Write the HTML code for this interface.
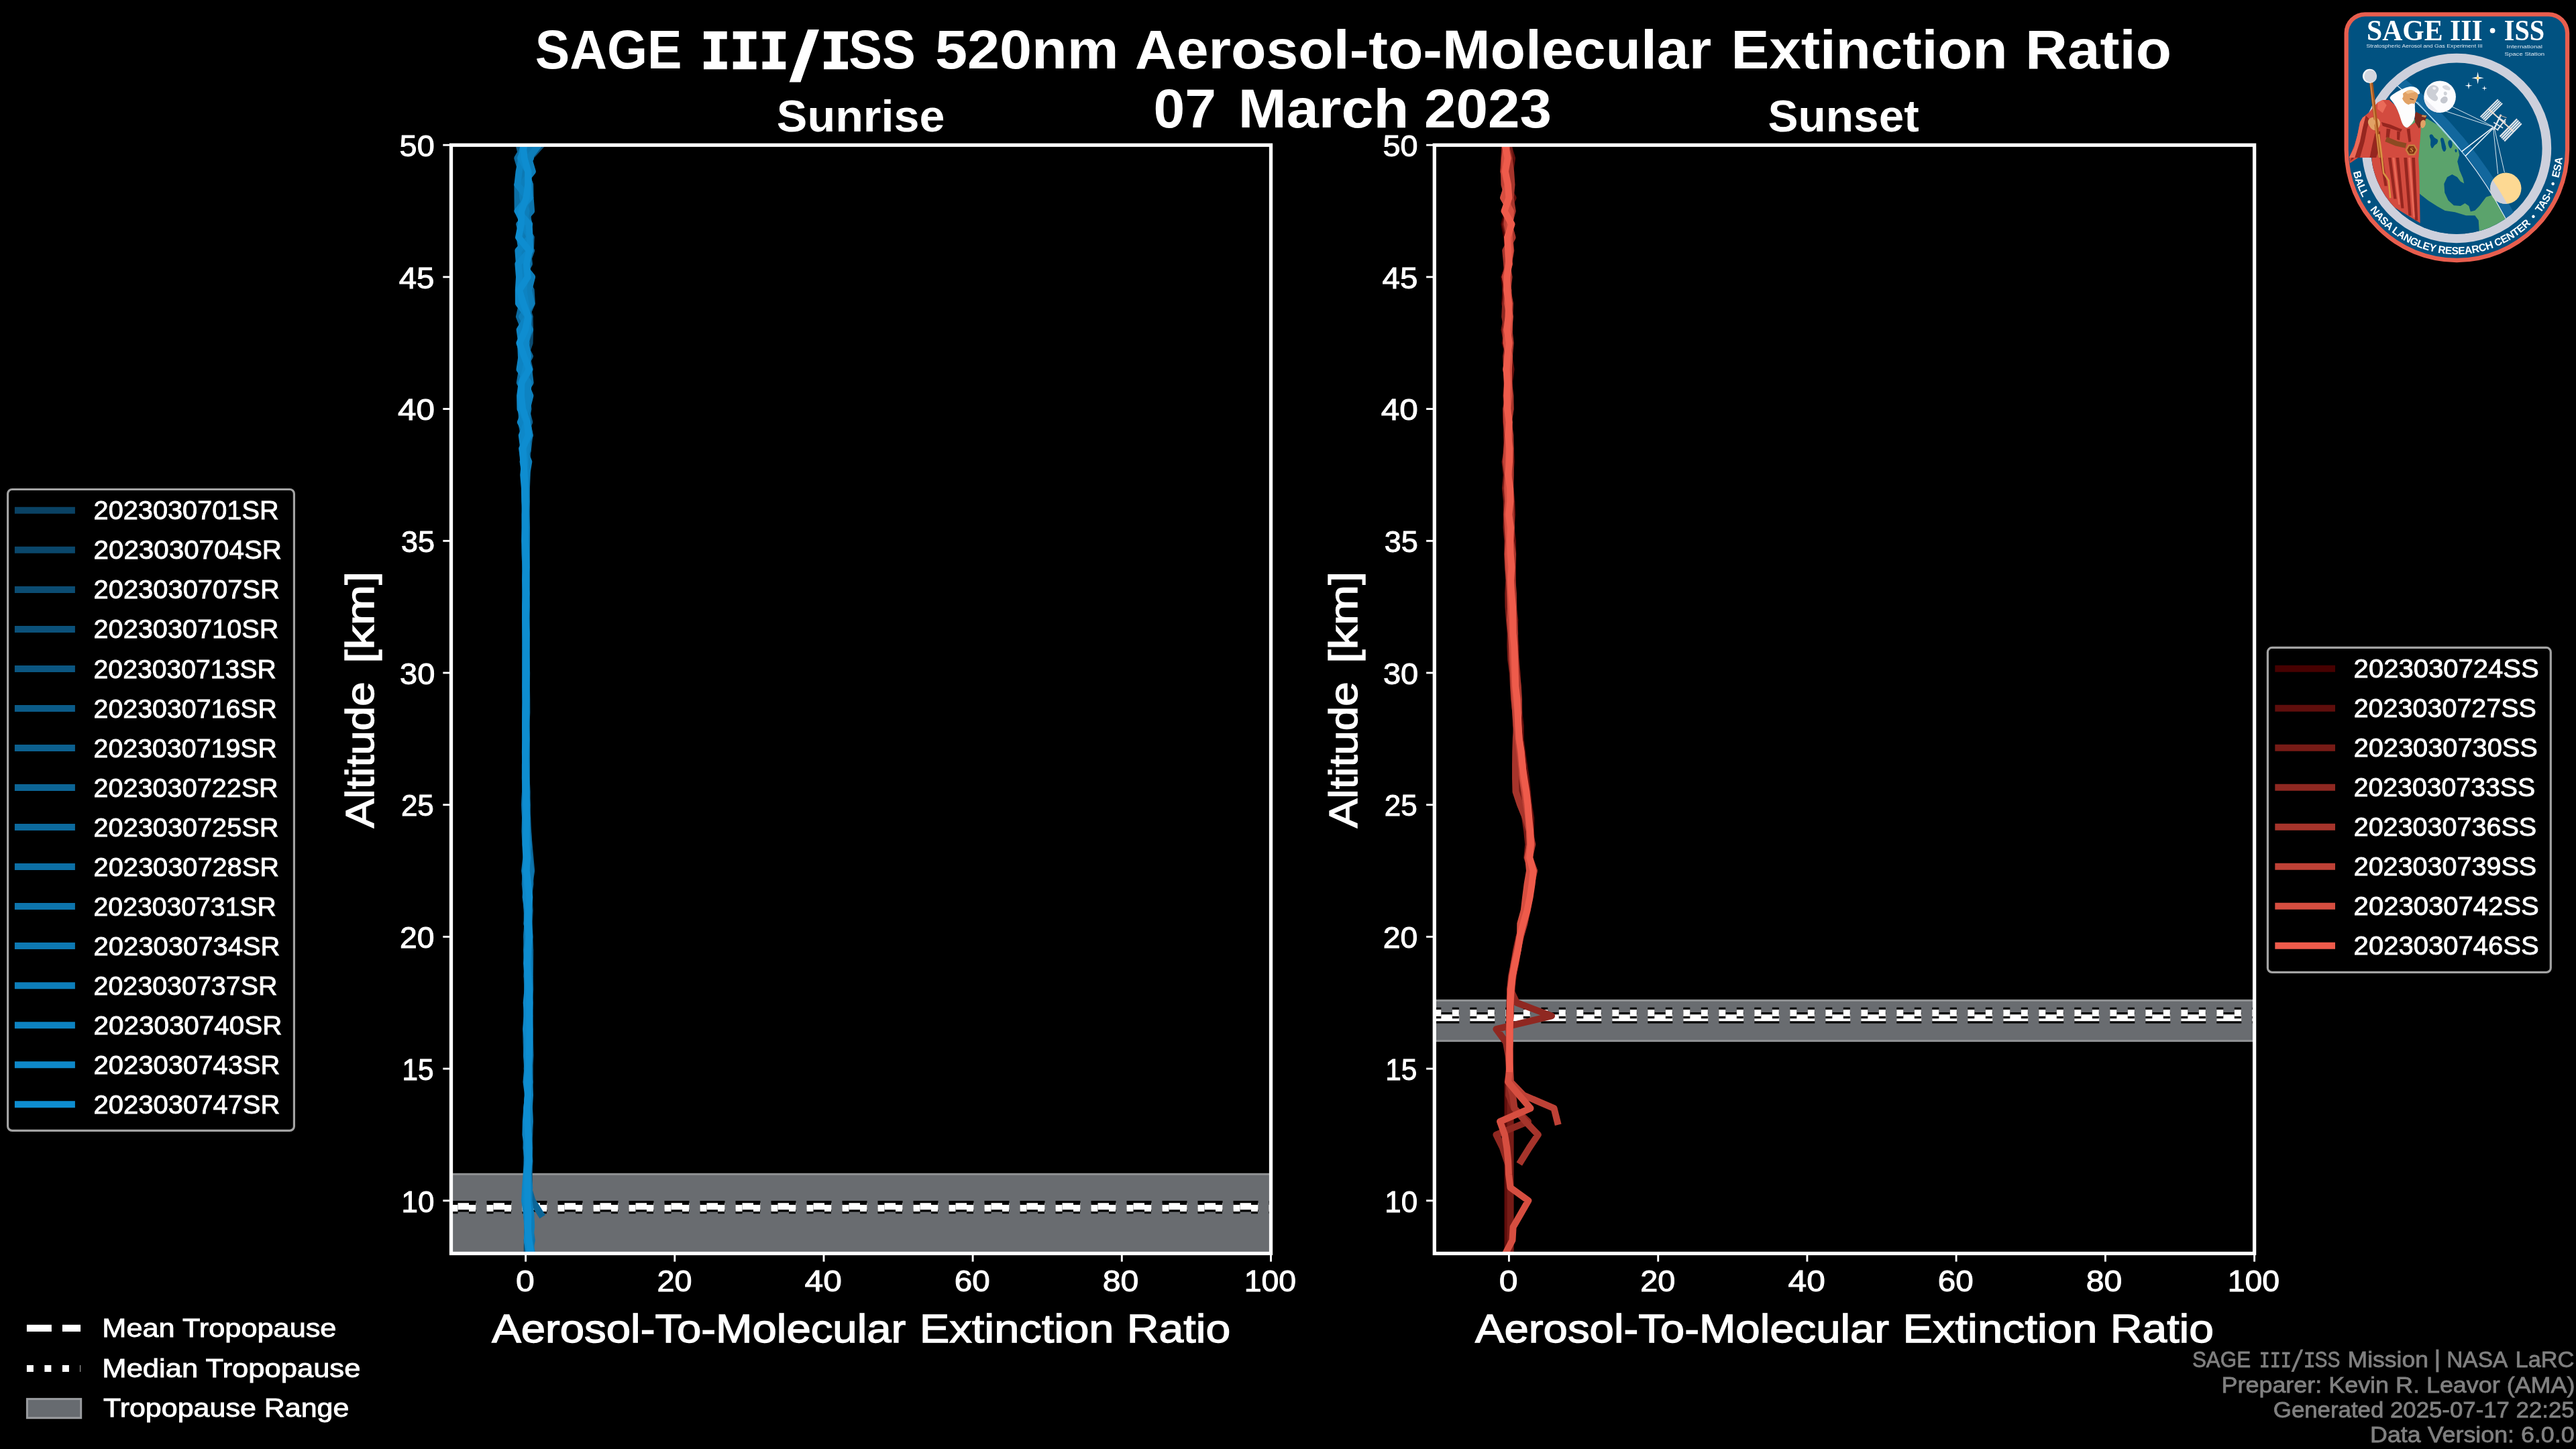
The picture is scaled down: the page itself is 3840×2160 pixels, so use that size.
<!DOCTYPE html>
<html lang="en">
<head>
<meta charset="utf-8">
<title>SAGE III/ISS 520nm Aerosol-to-Molecular Extinction Ratio - 07 March 2023</title>
<style>
html,body{margin:0;padding:0;background:#000;}
body{width:3840px;height:2160px;overflow:hidden;font-family:"Liberation Sans", sans-serif;}
svg{display:block;will-change:transform;font-family:"Liberation Sans", sans-serif;}
</style>
</head>
<body>
<svg width="3840" height="2160" viewBox="0 0 3840 2160" fill="#fff">
<rect width="3840" height="2160" fill="#000"/>
<g id="titles" fill="#fff">
<text x="797.68" y="101.5" font-size="81.5" font-weight="bold" textLength="218.74" lengthAdjust="spacingAndGlyphs">SAGE</text>
<text x="1044.62" y="101.5" font-size="81.5" font-weight="bold" font-family='"Liberation Mono", monospace' stroke="#fff" stroke-width="2.4" textLength="131.02" lengthAdjust="spacingAndGlyphs">III</text>
<text x="1223.44" y="101.5" font-size="81.5" font-weight="bold" font-family='"Liberation Mono", monospace' stroke="#fff" stroke-width="2.4" textLength="45.08" lengthAdjust="spacingAndGlyphs">I</text>
<text x="1265.25" y="101.5" font-size="81.5" font-weight="bold" textLength="99.46" lengthAdjust="spacingAndGlyphs">SS</text>
<text x="1394.04" y="101.5" font-size="81.5" font-weight="bold" textLength="273.61" lengthAdjust="spacingAndGlyphs">520nm</text>
<text x="1691.76" y="101.5" font-size="81.5" font-weight="bold" textLength="859.34" lengthAdjust="spacingAndGlyphs">Aerosol-to-Molecular</text>
<text x="2580.40" y="101.5" font-size="81.5" font-weight="bold" textLength="412.09" lengthAdjust="spacingAndGlyphs">Extinction</text>
<text x="3019.07" y="101.5" font-size="81.5" font-weight="bold" textLength="218.04" lengthAdjust="spacingAndGlyphs">Ratio</text>
<text x="1719.58" y="190.0" font-size="81.5" font-weight="bold" textLength="93.41" lengthAdjust="spacingAndGlyphs">07</text>
<text x="1845.82" y="190.0" font-size="81.5" font-weight="bold" textLength="254.54" lengthAdjust="spacingAndGlyphs">March</text>
<text x="2123.14" y="190.0" font-size="81.5" font-weight="bold" textLength="189.94" lengthAdjust="spacingAndGlyphs">2023</text>
<polygon points="1176.6,122.6 1193.4,122.6 1221.0,44.0 1204.2,44.0"/>
<text x="1157.83" y="195.6" font-size="67" font-weight="bold" textLength="250.60" lengthAdjust="spacingAndGlyphs">Sunrise</text>
<text x="2635.55" y="195.6" font-size="67" font-weight="bold" textLength="225.17" lengthAdjust="spacingAndGlyphs">Sunset</text>
</g>
<clipPath id="clip-sr"><rect x="672.5" y="216.25" width="1222.0" height="1652.25"/></clipPath>
<clipPath id="clip-ss"><rect x="2138.3" y="216.25" width="1222.3" height="1652.25"/></clipPath>
<g id="axes-sr">
<g clip-path="url(#clip-sr)">
<rect x="652.5" y="1750.3" width="1262.0" height="249.7" fill="#696c70" stroke="#909294" stroke-width="3"/>
<line x1="672.5" x2="1894.5" y1="1798.2" y2="1798.2" stroke="#000" stroke-width="16.4" stroke-dasharray="37 16"/>
<line x1="672.5" x2="1894.5" y1="1798.2" y2="1798.2" stroke="#fff" stroke-width="10" stroke-dasharray="37 16"/>
<line x1="672.5" x2="1894.5" y1="1801.0" y2="1801.0" stroke="#000" stroke-width="16.4" stroke-dasharray="10 16.5"/>
<line x1="672.5" x2="1894.5" y1="1801.0" y2="1801.0" stroke="#fff" stroke-width="10" stroke-dasharray="10 16.5"/>
<polyline points="776.9,216.2 784.0,235.9 776.0,255.6 782.5,275.3 780.2,294.9 776.2,314.6 782.2,334.3 776.2,353.9 781.4,373.6 776.9,393.3 777.3,412.9 781.4,432.6 786.3,452.3 778.1,472.0 779.4,491.6 784.0,511.3 787.3,531.0 783.6,550.6 781.9,570.3 787.4,590.0 779.0,609.6 786.2,629.3 781.5,649.0 781.1,668.7 781.8,688.3 783.0,708.0 783.8,727.7 783.5,747.3 783.7,767.0 783.9,786.7 783.7,806.3 783.8,826.0 783.4,845.7 783.2,865.3 783.3,885.0 783.7,904.7 783.8,924.4 783.7,944.0 783.9,963.7 783.9,983.4 783.8,1003.0 784.2,1022.7 784.3,1042.4 784.0,1062.0 784.1,1081.7 784.1,1101.4 784.5,1121.1 784.5,1140.7 784.2,1160.4 784.8,1180.1 784.0,1199.7 784.4,1219.4 785.6,1239.1 785.0,1258.7 785.7,1278.4 784.4,1298.1 786.2,1317.8 787.5,1337.4 787.7,1357.1 788.6,1376.8 787.4,1396.4 787.9,1416.1 787.8,1435.8 787.8,1455.4 787.4,1475.1 788.2,1494.8 788.9,1514.4 788.1,1534.1 788.1,1553.8 786.6,1573.5 787.4,1593.1 787.7,1612.8 788.7,1632.5 788.8,1652.1 787.6,1671.8 787.2,1691.5 787.6,1711.1 786.3,1730.8 786.6,1750.5 786.1,1770.2 785.6,1789.8 785.0,1809.5 787.1,1829.2 785.9,1848.8 785.7,1868.5" fill="none" stroke="#0a4264" stroke-width="10" stroke-linejoin="round" stroke-linecap="square"/>
<polyline points="787.6,216.2 775.9,235.9 781.4,255.6 782.9,275.3 787.7,294.9 786.8,314.6 787.4,334.3 779.3,353.9 781.3,373.6 780.6,393.3 787.5,412.9 788.4,432.6 778.2,452.3 778.7,472.0 779.5,491.6 779.7,511.3 782.7,531.0 783.9,550.6 780.6,570.3 778.3,590.0 782.5,609.6 782.1,629.3 784.0,649.0 786.6,668.7 784.6,688.3 783.8,708.0 783.9,727.7 784.1,747.3 783.5,767.0 784.1,786.7 784.3,806.3 784.5,826.0 784.5,845.7 784.1,865.3 784.0,885.0 783.6,904.7 783.9,924.4 783.5,944.0 783.3,963.7 783.4,983.4 783.4,1003.0 783.5,1022.7 783.4,1042.4 783.2,1062.0 783.3,1081.7 783.3,1101.4 783.6,1121.1 783.4,1140.7 784.1,1160.4 784.3,1180.1 783.7,1199.7 783.9,1219.4 784.4,1239.1 784.8,1258.7 784.4,1278.4 786.6,1298.1 788.6,1317.8 787.9,1337.4 787.7,1357.1 786.3,1376.8 785.6,1396.4 786.0,1416.1 786.0,1435.8 787.5,1455.4 786.5,1475.1 785.6,1494.8 787.6,1514.4 787.5,1534.1 786.5,1553.8 787.0,1573.5 785.9,1593.1 786.6,1612.8 788.2,1632.5 788.7,1652.1 788.6,1671.8 787.4,1691.5 787.0,1711.1 786.3,1730.8 787.5,1750.5 787.7,1770.2 788.6,1789.8 787.8,1809.5 786.8,1829.2 788.8,1848.8 791.0,1868.5" fill="none" stroke="#0a476b" stroke-width="10" stroke-linejoin="round" stroke-linecap="square"/>
<polyline points="788.7,216.2 788.9,235.9 787.6,255.6 779.9,275.3 784.3,294.9 781.9,314.6 777.2,334.3 777.3,353.9 781.0,373.6 780.7,393.3 786.7,412.9 790.2,432.6 783.4,452.3 789.7,472.0 790.2,491.6 789.6,511.3 782.7,531.0 781.1,550.6 781.4,570.3 781.2,590.0 781.5,609.6 785.6,629.3 788.1,649.0 786.8,668.7 784.2,688.3 784.8,708.0 784.6,727.7 783.9,747.3 784.2,767.0 784.6,786.7 784.7,806.3 784.7,826.0 784.5,845.7 784.0,865.3 784.4,885.0 784.2,904.7 784.5,924.4 784.9,944.0 784.5,963.7 784.3,983.4 784.8,1003.0 784.8,1022.7 784.3,1042.4 784.0,1062.0 783.8,1081.7 784.5,1101.4 784.8,1121.1 784.3,1140.7 784.7,1160.4 785.4,1180.1 785.5,1199.7 785.5,1219.4 786.2,1239.1 785.6,1258.7 784.9,1278.4 788.0,1298.1 788.6,1317.8 788.5,1337.4 789.8,1357.1 788.8,1376.8 789.6,1396.4 789.8,1416.1 788.2,1435.8 787.4,1455.4 787.1,1475.1 786.8,1494.8 787.6,1514.4 787.2,1534.1 787.3,1553.8 786.6,1573.5 788.4,1593.1 787.8,1612.8 787.8,1632.5 788.2,1652.1 789.2,1671.8 788.5,1691.5 789.4,1711.1 788.8,1730.8 788.5,1750.5 788.7,1770.2 787.1,1789.8 787.7,1809.5" fill="none" stroke="#0b4c72" stroke-width="10" stroke-linejoin="round" stroke-linecap="square"/>
<polyline points="807.0,216.2 789.0,235.9 776.0,255.6 780.9,275.3 784.9,294.9 782.3,314.6 778.8,334.3 781.8,353.9 782.4,373.6 785.8,393.3 776.0,412.9 782.6,432.6 778.3,452.3 778.9,472.0 785.5,491.6 782.1,511.3 782.9,531.0 785.3,550.6 787.0,570.3 781.9,590.0 783.8,609.6 782.8,629.3 783.0,649.0 784.6,668.7 783.1,688.3 783.6,708.0 783.6,727.7 784.2,747.3 784.2,767.0 784.4,786.7 784.6,806.3 783.9,826.0 783.9,845.7 784.4,865.3 784.5,885.0 783.8,904.7 783.4,924.4 783.6,944.0 783.2,963.7 783.3,983.4 783.1,1003.0 783.7,1022.7 784.1,1042.4 784.5,1062.0 783.9,1081.7 784.2,1101.4 784.3,1121.1 783.8,1140.7 784.3,1160.4 784.9,1180.1 784.1,1199.7 785.5,1219.4 785.4,1239.1 785.6,1258.7 787.8,1278.4 788.6,1298.1 786.3,1317.8 786.3,1337.4 786.8,1357.1 786.3,1376.8 785.6,1396.4 785.7,1416.1 787.0,1435.8 785.5,1455.4 786.3,1475.1 786.5,1494.8 785.3,1514.4 785.6,1534.1 786.6,1553.8 786.8,1573.5 785.6,1593.1 787.6,1612.8 788.2,1632.5 789.0,1652.1 787.0,1671.8 786.3,1691.5 785.3,1711.1 786.9,1730.8 786.3,1750.5 785.5,1770.2 785.9,1789.8 788.1,1809.5 789.3,1829.2 787.4,1848.8 785.6,1868.5" fill="none" stroke="#0b517a" stroke-width="10" stroke-linejoin="round" stroke-linecap="square"/>
<polyline points="785.6,216.2 787.8,235.9 777.5,255.6 777.1,275.3 787.5,294.9 783.2,314.6 777.6,334.3 791.4,353.9 786.6,373.6 789.1,393.3 778.2,412.9 789.7,432.6 778.2,452.3 789.6,472.0 783.8,491.6 782.4,511.3 785.2,531.0 789.8,550.6 781.9,570.3 780.4,590.0 785.0,609.6 782.0,629.3 780.8,649.0 781.9,668.7 781.8,688.3 783.0,708.0 783.5,727.7 783.5,747.3 784.2,767.0 783.9,786.7 784.1,806.3 783.8,826.0 783.8,845.7 783.5,865.3 783.5,885.0 783.3,904.7 784.1,924.4 784.2,944.0 783.9,963.7 784.1,983.4 784.7,1003.0 784.2,1022.7 784.6,1042.4 784.5,1062.0 784.5,1081.7 784.8,1101.4 784.6,1121.1 784.6,1140.7 784.7,1160.4 785.5,1180.1 785.1,1199.7 786.3,1219.4 787.2,1239.1 788.0,1258.7 787.9,1278.4 787.4,1298.1 785.9,1317.8 785.7,1337.4 785.6,1357.1 787.7,1376.8 787.1,1396.4 786.6,1416.1 786.1,1435.8 788.1,1455.4 789.3,1475.1 789.3,1494.8 788.2,1514.4 787.4,1534.1 787.2,1553.8 787.5,1573.5 786.8,1593.1 787.3,1612.8 787.0,1632.5 788.9,1652.1 790.0,1671.8 789.3,1691.5 788.1,1711.1 789.5,1730.8 788.4,1750.5 788.1,1770.2 786.6,1789.8 787.2,1809.5 788.1,1829.2 788.9,1848.8 787.7,1868.5" fill="none" stroke="#0b5681" stroke-width="10" stroke-linejoin="round" stroke-linecap="square"/>
<polyline points="773.6,216.2 778.4,235.9 775.4,255.6 780.9,275.3 774.8,294.9 774.6,314.6 779.5,334.3 778.4,353.9 784.2,373.6 783.3,393.3 786.8,412.9 785.3,432.6 786.2,452.3 788.5,472.0 781.5,491.6 780.7,511.3 789.6,531.0 778.8,550.6 786.1,570.3 785.1,590.0 778.3,609.6 787.2,629.3 787.7,649.0 784.8,668.7 785.2,688.3 785.2,708.0 783.9,727.7 783.9,747.3 783.9,767.0 784.3,786.7 784.5,806.3 784.7,826.0 784.5,845.7 784.7,865.3 784.6,885.0 784.6,904.7 784.0,924.4 783.5,944.0 783.3,963.7 783.5,983.4 783.3,1003.0 784.1,1022.7 784.2,1042.4 784.3,1062.0 784.4,1081.7 784.5,1101.4 784.4,1121.1 783.8,1140.7 784.3,1160.4 784.7,1180.1 784.6,1199.7 785.1,1219.4 786.0,1239.1 784.9,1258.7 786.8,1278.4 785.8,1298.1 784.6,1317.8 785.1,1337.4 787.3,1357.1 786.3,1376.8 787.7,1396.4 789.2,1416.1 788.4,1435.8 787.6,1455.4 787.5,1475.1 788.1,1494.8 788.7,1514.4 788.5,1534.1 788.5,1553.8 786.7,1573.5 786.0,1593.1 785.9,1612.8 787.4,1632.5 786.8,1652.1 787.3,1671.8 785.9,1691.5 785.3,1711.1 785.6,1730.8 787.0,1750.5 788.0,1770.2" fill="none" stroke="#0b5b88" stroke-width="10" stroke-linejoin="round" stroke-linecap="square"/>
<polyline points="779.4,216.2 783.7,235.9 782.8,255.6 782.8,275.3 776.6,294.9 790.5,314.6 778.3,334.3 791.7,353.9 790.9,373.6 775.6,393.3 782.9,412.9 788.8,432.6 791.0,452.3 782.9,472.0 780.3,491.6 779.6,511.3 789.9,531.0 780.0,550.6 784.9,570.3 779.5,590.0 784.3,609.6 789.2,629.3 780.2,649.0 786.9,668.7 784.1,688.3 785.8,708.0 784.9,727.7 784.1,747.3 784.6,767.0 784.3,786.7 783.6,806.3 783.2,826.0 783.6,845.7 783.8,865.3 783.7,885.0 783.5,904.7 783.6,924.4 783.6,944.0 784.3,963.7 783.7,983.4 784.2,1003.0 784.7,1022.7 784.0,1042.4 784.7,1062.0 784.8,1081.7 785.0,1101.4 784.5,1121.1 784.3,1140.7 784.2,1160.4 785.1,1180.1 785.1,1199.7 785.2,1219.4 785.5,1239.1 785.4,1258.7 784.4,1278.4 783.7,1298.1 787.2,1317.8 786.6,1337.4 789.1,1357.1 787.6,1376.8 786.8,1396.4 787.4,1416.1 786.5,1435.8 786.7,1455.4 788.7,1475.1 789.6,1494.8 789.8,1514.4 789.4,1534.1 790.0,1553.8 790.5,1573.5 789.5,1593.1 789.4,1612.8 787.2,1632.5 788.3,1652.1 787.9,1671.8 788.7,1691.5 788.8,1711.1 787.7,1730.8 786.3,1750.5 788.6,1770.2 787.1,1789.8 787.6,1809.5 787.4,1829.2 787.0,1848.8 789.4,1868.5" fill="none" stroke="#0c608f" stroke-width="10" stroke-linejoin="round" stroke-linecap="square"/>
<polyline points="780.2,216.2 787.9,235.9 781.1,255.6 786.0,275.3 783.0,294.9 778.8,314.6 778.8,334.3 779.7,353.9 792.1,373.6 784.9,393.3 780.2,412.9 791.7,432.6 792.9,452.3 784.1,472.0 779.4,491.6 780.3,511.3 779.1,531.0 782.8,550.6 779.5,570.3 781.6,590.0 782.0,609.6 785.8,629.3 789.4,649.0 787.1,668.7 784.0,688.3 784.0,708.0 784.1,727.7 784.0,747.3 783.9,767.0 783.5,786.7 783.6,806.3 784.5,826.0 783.9,845.7 784.1,865.3 784.4,885.0 784.9,904.7 784.3,924.4 784.1,944.0 783.9,963.7 784.0,983.4 784.2,1003.0 784.9,1022.7 785.2,1042.4 785.3,1062.0 784.4,1081.7 783.9,1101.4 784.5,1121.1 785.0,1140.7 784.8,1160.4 785.0,1180.1 784.0,1199.7 784.7,1219.4 786.9,1239.1 788.6,1258.7 790.4,1278.4 792.2,1298.1 789.2,1317.8 787.2,1337.4 786.6,1357.1 787.6,1376.8 788.7,1396.4 790.2,1416.1 790.1,1435.8 789.9,1455.4 790.2,1475.1 789.2,1494.8 789.1,1514.4 787.2,1534.1 788.7,1553.8 787.7,1573.5 789.5,1593.1 789.5,1612.8 788.3,1632.5 787.1,1652.1 786.9,1671.8 788.0,1691.5 788.9,1711.1 787.4,1730.8 786.4,1750.5 787.5,1770.2 793.5,1789.8 806.0,1809.5" fill="none" stroke="#0c6596" stroke-width="10" stroke-linejoin="round" stroke-linecap="square"/>
<polyline points="783.1,216.2 771.3,235.9 777.2,255.6 780.4,275.3 790.2,294.9 784.1,314.6 788.6,334.3 781.0,353.9 776.6,373.6 777.0,393.3 789.7,412.9 785.2,432.6 778.4,452.3 773.9,472.0 781.8,491.6 784.7,511.3 780.9,531.0 778.7,550.6 784.6,570.3 788.1,590.0 779.1,609.6 777.0,629.3 780.9,649.0 782.3,668.7 784.6,688.3 781.9,708.0 783.5,727.7 783.9,747.3 783.8,767.0 783.3,786.7 784.2,806.3 783.7,826.0 784.2,845.7 783.6,865.3 783.3,885.0 783.9,904.7 783.6,924.4 784.3,944.0 784.1,963.7 783.6,983.4 783.4,1003.0 783.5,1022.7 783.9,1042.4 784.5,1062.0 783.8,1081.7 783.8,1101.4 783.5,1121.1 784.4,1140.7 783.8,1160.4 783.0,1180.1 782.3,1199.7 783.1,1219.4 785.3,1239.1 787.0,1258.7 787.9,1278.4 789.9,1298.1 790.4,1317.8 787.9,1337.4 786.2,1357.1 788.3,1376.8 788.6,1396.4 786.0,1416.1 787.1,1435.8 786.6,1455.4 786.3,1475.1 786.0,1494.8 785.2,1514.4 784.2,1534.1 784.6,1553.8 785.2,1573.5 787.6,1593.1 786.0,1612.8 788.0,1632.5 786.5,1652.1 786.2,1671.8 787.7,1691.5 788.5,1711.1 787.5,1730.8 785.7,1750.5 786.2,1770.2 786.1,1789.8 788.6,1809.5 786.5,1829.2 786.0,1848.8 789.3,1868.5" fill="none" stroke="#0c6a9e" stroke-width="10" stroke-linejoin="round" stroke-linecap="square"/>
<polyline points="798.0,216.2 786.0,235.9 785.6,255.6 771.4,275.3 771.5,294.9 771.7,314.6 788.6,334.3 775.7,353.9 785.2,373.6 788.0,393.3 777.7,412.9 776.6,432.6 788.9,452.3 782.9,472.0 777.0,491.6 784.6,511.3 778.4,531.0 778.1,550.6 774.8,570.3 785.3,590.0 787.4,609.6 783.7,629.3 787.6,649.0 778.0,668.7 781.1,688.3 783.1,708.0 784.1,727.7 784.5,747.3 783.9,767.0 783.3,786.7 783.3,806.3 783.4,826.0 784.1,845.7 783.4,865.3 784.0,885.0 784.2,904.7 784.4,924.4 784.5,944.0 784.3,963.7 783.8,983.4 783.5,1003.0 783.5,1022.7 784.0,1042.4 783.4,1062.0 783.2,1081.7 783.8,1101.4 783.5,1121.1 783.1,1140.7 782.9,1160.4 783.1,1180.1 782.8,1199.7 784.8,1219.4 786.2,1239.1 788.0,1258.7 786.1,1278.4 783.6,1298.1 782.7,1317.8 784.5,1337.4 786.5,1357.1 786.2,1376.8 785.2,1396.4 785.5,1416.1 786.4,1435.8 787.1,1455.4 787.8,1475.1 788.5,1494.8 788.2,1514.4 786.0,1534.1 787.5,1553.8 786.3,1573.5 786.6,1593.1 786.1,1612.8 787.2,1632.5 785.8,1652.1 785.2,1671.8 784.9,1691.5 784.4,1711.1 786.7,1730.8 786.9,1750.5 786.1,1770.2 785.9,1789.8 788.6,1809.5 787.9,1829.2 785.7,1848.8 788.2,1868.5" fill="none" stroke="#0c6fa5" stroke-width="10" stroke-linejoin="round" stroke-linecap="square"/>
<polyline points="794.0,216.2 774.8,235.9 782.9,255.6 790.2,275.3 790.6,294.9 792.1,314.6 774.2,334.3 779.4,353.9 776.1,373.6 777.6,393.3 792.6,412.9 785.2,432.6 791.6,452.3 781.4,472.0 790.0,491.6 782.9,511.3 779.9,531.0 788.2,550.6 790.6,570.3 778.3,590.0 785.4,609.6 785.7,629.3 780.6,649.0 782.8,668.7 781.5,688.3 782.4,708.0 783.0,727.7 783.6,747.3 784.0,767.0 783.6,786.7 783.1,806.3 783.3,826.0 783.9,845.7 783.5,865.3 783.5,885.0 783.4,904.7 784.2,924.4 784.3,944.0 783.6,963.7 783.3,983.4 783.6,1003.0 784.0,1022.7 784.3,1042.4 783.7,1062.0 783.5,1081.7 784.2,1101.4 784.1,1121.1 784.0,1140.7 783.9,1160.4 784.9,1180.1 784.4,1199.7 785.2,1219.4 785.3,1239.1 785.7,1258.7 788.3,1278.4 791.0,1298.1 788.6,1317.8 786.8,1337.4 788.5,1357.1 786.9,1376.8 785.3,1396.4 788.1,1416.1 787.7,1435.8 789.0,1455.4 788.1,1475.1 789.5,1494.8 788.6,1514.4 786.9,1534.1 785.5,1553.8 786.7,1573.5 787.8,1593.1 789.4,1612.8 787.1,1632.5 787.9,1652.1 787.4,1671.8 787.6,1691.5 786.4,1711.1 786.2,1730.8 787.0,1750.5 789.3,1770.2 787.2,1789.8 787.8,1809.5 790.0,1829.2 792.8,1848.8 789.3,1868.5" fill="none" stroke="#0d74ac" stroke-width="10" stroke-linejoin="round" stroke-linecap="square"/>
<polyline points="790.3,216.2 791.0,235.9 780.1,255.6 771.4,275.3 789.8,294.9 778.2,314.6 789.2,334.3 783.2,353.9 787.4,373.6 774.1,393.3 786.6,412.9 775.6,432.6 779.3,452.3 787.6,472.0 787.1,491.6 776.0,511.3 776.9,531.0 780.1,550.6 782.1,570.3 780.2,590.0 776.7,609.6 778.8,629.3 785.3,649.0 786.8,668.7 779.6,688.3 783.6,708.0 784.0,727.7 783.1,747.3 783.8,767.0 783.1,786.7 783.5,806.3 783.6,826.0 783.8,845.7 783.5,865.3 783.4,885.0 783.7,904.7 783.6,924.4 783.9,944.0 783.8,963.7 783.7,983.4 783.0,1003.0 783.6,1022.7 783.7,1042.4 783.4,1062.0 784.0,1081.7 784.4,1101.4 784.1,1121.1 783.6,1140.7 783.7,1160.4 783.0,1180.1 782.3,1199.7 783.0,1219.4 782.5,1239.1 783.3,1258.7 784.3,1278.4 782.1,1298.1 784.8,1317.8 783.5,1337.4 786.2,1357.1 787.7,1376.8 787.2,1396.4 785.1,1416.1 785.8,1435.8 785.7,1455.4 787.9,1475.1 785.9,1494.8 787.7,1514.4 789.2,1534.1 789.0,1553.8 789.2,1573.5 786.8,1593.1 788.6,1612.8 787.7,1632.5 789.0,1652.1 789.6,1671.8 787.0,1691.5 787.9,1711.1 789.0,1730.8 786.3,1750.5 785.8,1770.2 787.5,1789.8 785.5,1809.5 788.4,1829.2 786.3,1848.8" fill="none" stroke="#0d79b3" stroke-width="10" stroke-linejoin="round" stroke-linecap="square"/>
<polyline points="803.0,216.2 788.0,235.9 793.9,255.6 777.9,275.3 779.2,294.9 784.6,314.6 780.6,334.3 774.6,353.9 777.8,373.6 777.5,393.3 793.1,412.9 788.1,432.6 792.3,452.3 778.2,472.0 789.8,491.6 777.7,511.3 785.1,531.0 786.9,550.6 782.4,570.3 790.4,590.0 785.5,609.6 785.8,629.3 789.9,649.0 780.4,668.7 788.3,688.3 785.0,708.0 784.2,727.7 784.7,747.3 784.1,767.0 784.9,786.7 784.7,806.3 784.3,826.0 784.7,845.7 784.4,865.3 783.9,885.0 784.4,904.7 783.7,924.4 784.5,944.0 784.1,963.7 784.4,983.4 785.1,1003.0 784.9,1022.7 785.0,1042.4 784.5,1062.0 783.7,1081.7 783.4,1101.4 783.4,1121.1 784.1,1140.7 784.2,1160.4 784.4,1180.1 785.6,1199.7 784.8,1219.4 784.7,1239.1 786.5,1258.7 784.8,1278.4 783.1,1298.1 784.8,1317.8 784.5,1337.4 785.8,1357.1 785.7,1376.8 787.3,1396.4 788.1,1416.1 786.9,1435.8 788.1,1455.4 788.0,1475.1 786.6,1494.8 789.2,1514.4 787.7,1534.1 786.5,1553.8 785.6,1573.5 787.4,1593.1 789.3,1612.8 790.0,1632.5 788.8,1652.1 787.6,1671.8 785.9,1691.5 787.5,1711.1 788.1,1730.8 787.6,1750.5 788.7,1770.2 788.6,1789.8 791.3,1809.5 792.2,1829.2 789.6,1848.8 793.1,1868.5" fill="none" stroke="#0d7eba" stroke-width="10" stroke-linejoin="round" stroke-linecap="square"/>
<polyline points="780.4,216.2 777.5,235.9 773.6,255.6 771.4,275.3 786.4,294.9 771.7,314.6 781.2,334.3 789.9,353.9 772.4,373.6 773.9,393.3 782.6,412.9 780.6,432.6 783.4,452.3 786.8,472.0 774.6,491.6 777.4,511.3 777.5,531.0 774.5,550.6 787.8,570.3 786.0,590.0 785.0,609.6 775.8,629.3 786.8,649.0 785.1,668.7 782.6,688.3 784.6,708.0 783.8,727.7 783.2,747.3 782.6,767.0 782.6,786.7 782.2,806.3 782.5,826.0 783.4,845.7 783.8,865.3 784.3,885.0 784.3,904.7 783.6,924.4 783.7,944.0 783.6,963.7 784.1,983.4 784.0,1003.0 783.5,1022.7 783.8,1042.4 784.5,1062.0 783.8,1081.7 784.4,1101.4 783.4,1121.1 783.3,1140.7 783.2,1160.4 783.7,1180.1 784.7,1199.7 785.5,1219.4 784.8,1239.1 786.7,1258.7 785.4,1278.4 783.7,1298.1 787.1,1317.8 787.4,1337.4 787.9,1357.1 788.0,1376.8 789.4,1396.4 787.9,1416.1 788.6,1435.8 788.5,1455.4 789.1,1475.1 787.6,1494.8 788.0,1514.4 787.6,1534.1 786.2,1553.8 785.1,1573.5 786.2,1593.1 784.5,1612.8 787.1,1632.5 785.3,1652.1 783.8,1671.8 783.4,1691.5 786.5,1711.1 785.8,1730.8 784.6,1750.5 783.1,1770.2 782.1,1789.8 784.9,1809.5 786.4,1829.2 787.8,1848.8 789.1,1868.5" fill="none" stroke="#0d83c2" stroke-width="10" stroke-linejoin="round" stroke-linecap="square"/>
<polyline points="781.9,216.2 776.4,235.9 787.6,255.6 787.6,275.3 789.3,294.9 771.7,314.6 788.6,334.3 789.6,353.9 790.2,373.6 772.4,393.3 774.0,412.9 772.8,432.6 772.9,452.3 787.7,472.0 786.9,491.6 783.5,511.3 787.1,531.0 783.6,550.6 777.8,570.3 775.1,590.0 775.5,609.6 785.7,629.3 777.8,649.0 780.4,668.7 782.2,688.3 780.2,708.0 781.9,727.7 782.2,747.3 783.2,767.0 783.1,786.7 783.0,806.3 784.0,826.0 783.8,845.7 784.3,865.3 784.2,885.0 783.1,904.7 783.2,924.4 783.3,944.0 783.9,963.7 783.6,983.4 784.0,1003.0 783.9,1022.7 783.4,1042.4 784.2,1062.0 783.4,1081.7 784.1,1101.4 783.5,1121.1 782.9,1140.7 782.9,1160.4 783.6,1180.1 784.8,1199.7 783.2,1219.4 783.9,1239.1 784.3,1258.7 786.5,1278.4 784.0,1298.1 784.9,1317.8 784.7,1337.4 787.3,1357.1 785.6,1376.8 788.1,1396.4 786.3,1416.1 785.1,1435.8 786.6,1455.4 786.5,1475.1 784.7,1494.8 786.1,1514.4 784.4,1534.1 786.6,1553.8 787.4,1573.5 788.2,1593.1 787.9,1612.8 786.6,1632.5 786.1,1652.1 785.8,1671.8 787.8,1691.5 785.4,1711.1 787.5,1730.8 785.0,1750.5 784.2,1770.2 783.8,1789.8 787.3,1809.5 787.0,1829.2 785.9,1848.8 789.2,1868.5" fill="none" stroke="#0e88c9" stroke-width="10" stroke-linejoin="round" stroke-linecap="square"/>
<polyline points="779.7,216.2 781.6,235.9 787.2,255.6 787.2,275.3 784.5,294.9 777.3,314.6 776.9,334.3 773.0,353.9 789.1,373.6 784.9,393.3 786.7,412.9 774.1,432.6 780.1,452.3 787.2,472.0 783.2,491.6 774.4,511.3 781.1,531.0 789.0,550.6 777.5,570.3 777.0,590.0 779.1,609.6 785.6,629.3 787.7,649.0 778.9,668.7 780.2,688.3 781.8,708.0 782.7,727.7 783.1,747.3 782.7,767.0 782.8,786.7 782.7,806.3 784.0,826.0 784.3,845.7 783.3,865.3 784.3,885.0 783.4,904.7 783.4,924.4 784.4,944.0 784.6,963.7 784.7,983.4 784.2,1003.0 783.6,1022.7 784.0,1042.4 783.3,1062.0 783.1,1081.7 783.3,1101.4 782.9,1121.1 783.2,1140.7 784.1,1160.4 784.4,1180.1 784.2,1199.7 785.0,1219.4 785.1,1239.1 783.7,1258.7 785.2,1278.4 784.8,1298.1 787.1,1317.8 789.3,1337.4 787.8,1357.1 787.7,1376.8 788.5,1396.4 787.3,1416.1 785.8,1435.8 787.3,1455.4 788.8,1475.1 789.2,1494.8 789.0,1514.4 789.6,1534.1 789.2,1553.8 788.7,1573.5 787.7,1593.1 786.4,1612.8 787.2,1632.5 785.2,1652.1 785.6,1671.8 787.4,1691.5 788.1,1711.1 788.1,1730.8 786.4,1750.5 786.3,1770.2 786.4,1789.8 787.4,1809.5 786.7,1829.2 788.3,1848.8 791.5,1868.5" fill="none" stroke="#0e8dd0" stroke-width="10" stroke-linejoin="round" stroke-linecap="square"/>
</g>
<rect x="672.5" y="216.25" width="1222.0" height="1652.25" fill="none" stroke="#fff" stroke-width="5.3"/>
<line x1="783.6" x2="783.6" y1="1868.5" y2="1880.7" stroke="#fff" stroke-width="2.9"/>
<text x="769.06" y="1925.3" font-size="45.0" stroke="#fff" stroke-width="1.03" textLength="27.76" lengthAdjust="spacingAndGlyphs">0</text>
<line x1="1005.8" x2="1005.8" y1="1868.5" y2="1880.7" stroke="#fff" stroke-width="2.9"/>
<text x="979.44" y="1925.3" font-size="45.0" stroke="#fff" stroke-width="1.03" textLength="52.05" lengthAdjust="spacingAndGlyphs">20</text>
<line x1="1228.0" x2="1228.0" y1="1868.5" y2="1880.7" stroke="#fff" stroke-width="2.9"/>
<text x="1199.63" y="1925.3" font-size="45.0" stroke="#fff" stroke-width="1.03" textLength="55.24" lengthAdjust="spacingAndGlyphs">40</text>
<line x1="1450.1" x2="1450.1" y1="1868.5" y2="1880.7" stroke="#fff" stroke-width="2.9"/>
<text x="1422.84" y="1925.3" font-size="45.0" stroke="#fff" stroke-width="1.03" textLength="52.94" lengthAdjust="spacingAndGlyphs">60</text>
<line x1="1672.3" x2="1672.3" y1="1868.5" y2="1880.7" stroke="#fff" stroke-width="2.9"/>
<text x="1643.74" y="1925.3" font-size="45.0" stroke="#fff" stroke-width="1.03" textLength="53.64" lengthAdjust="spacingAndGlyphs">80</text>
<line x1="1894.5" x2="1894.5" y1="1868.5" y2="1880.7" stroke="#fff" stroke-width="2.9"/>
<text x="1854.68" y="1925.3" font-size="45.0" stroke="#fff" stroke-width="1.03" textLength="77.41" lengthAdjust="spacingAndGlyphs">100</text>
<line x1="660.3" x2="672.5" y1="1789.8" y2="1789.8" stroke="#fff" stroke-width="2.9"/>
<text x="598.57" y="1806.5" font-size="45.0" stroke="#fff" stroke-width="1.03" textLength="48.82" lengthAdjust="spacingAndGlyphs">10</text>
<line x1="660.3" x2="672.5" y1="1593.1" y2="1593.1" stroke="#fff" stroke-width="2.9"/>
<text x="599.50" y="1609.8" font-size="45.0" stroke="#fff" stroke-width="1.03" textLength="47.06" lengthAdjust="spacingAndGlyphs">15</text>
<line x1="660.3" x2="672.5" y1="1396.4" y2="1396.4" stroke="#fff" stroke-width="2.9"/>
<text x="596.09" y="1413.1" font-size="45.0" stroke="#fff" stroke-width="1.03" textLength="51.50" lengthAdjust="spacingAndGlyphs">20</text>
<line x1="660.3" x2="672.5" y1="1199.7" y2="1199.7" stroke="#fff" stroke-width="2.9"/>
<text x="597.91" y="1216.4" font-size="45.0" stroke="#fff" stroke-width="1.03" textLength="48.92" lengthAdjust="spacingAndGlyphs">25</text>
<line x1="660.3" x2="672.5" y1="1003.0" y2="1003.0" stroke="#fff" stroke-width="2.9"/>
<text x="596.13" y="1019.7" font-size="45.0" stroke="#fff" stroke-width="1.03" textLength="52.29" lengthAdjust="spacingAndGlyphs">30</text>
<line x1="660.3" x2="672.5" y1="806.3" y2="806.3" stroke="#fff" stroke-width="2.9"/>
<text x="597.90" y="823.0" font-size="45.0" stroke="#fff" stroke-width="1.03" textLength="50.07" lengthAdjust="spacingAndGlyphs">35</text>
<line x1="660.3" x2="672.5" y1="609.6" y2="609.6" stroke="#fff" stroke-width="2.9"/>
<text x="592.98" y="626.3" font-size="45.0" stroke="#fff" stroke-width="1.03" textLength="55.03" lengthAdjust="spacingAndGlyphs">40</text>
<line x1="660.3" x2="672.5" y1="412.9" y2="412.9" stroke="#fff" stroke-width="2.9"/>
<text x="594.73" y="429.6" font-size="45.0" stroke="#fff" stroke-width="1.03" textLength="52.74" lengthAdjust="spacingAndGlyphs">45</text>
<line x1="660.3" x2="672.5" y1="216.2" y2="216.2" stroke="#fff" stroke-width="2.9"/>
<text x="595.64" y="232.9" font-size="45.0" stroke="#fff" stroke-width="1.03" textLength="52.07" lengthAdjust="spacingAndGlyphs">50</text>
<text x="733.15" y="2001.0" font-size="58.8" stroke="#fff" stroke-width="1.35" textLength="617.16" lengthAdjust="spacingAndGlyphs">Aerosol-To-Molecular</text>
<text x="1370.69" y="2001.0" font-size="58.8" stroke="#fff" stroke-width="1.35" textLength="289.87" lengthAdjust="spacingAndGlyphs">Extinction</text>
<text x="1679.85" y="2001.0" font-size="58.8" stroke="#fff" stroke-width="1.35" textLength="154.35" lengthAdjust="spacingAndGlyphs">Ratio</text>
<text transform="translate(557.3,1234.7) rotate(-90)" x="0.55" y="0" font-size="58.8" fill="#fff" stroke="#fff" stroke-width="1.35" textLength="217.57" lengthAdjust="spacingAndGlyphs">Altitude</text>
<text transform="translate(557.3,984.3) rotate(-90)" x="-4.51" y="0" font-size="58.8" fill="#fff" stroke="#fff" stroke-width="1.35" textLength="137.31" lengthAdjust="spacingAndGlyphs">[km]</text>
</g>
<g id="axes-ss">
<g clip-path="url(#clip-ss)">
<rect x="2118.3" y="1491.4" width="1262.3" height="60.2" fill="#696c70" stroke="#909294" stroke-width="3"/>
<line x1="2138.3" x2="3360.6" y1="1517.3" y2="1517.3" stroke="#000" stroke-width="16.4" stroke-dasharray="37 16"/>
<line x1="2138.3" x2="3360.6" y1="1517.3" y2="1517.3" stroke="#fff" stroke-width="10" stroke-dasharray="37 16"/>
<line x1="2138.3" x2="3360.6" y1="1510.0" y2="1510.0" stroke="#000" stroke-width="16.4" stroke-dasharray="10 16.5"/>
<line x1="2138.3" x2="3360.6" y1="1510.0" y2="1510.0" stroke="#fff" stroke-width="10" stroke-dasharray="10 16.5"/>
<polyline points="2245.6,216.2 2247.0,235.9 2251.6,255.6 2245.8,275.3 2246.3,294.9 2247.3,314.6 2242.3,334.3 2246.3,353.9 2247.8,373.6 2249.4,393.3 2242.1,412.9 2244.4,432.6 2242.9,452.3 2248.6,472.0 2247.7,491.6 2243.4,511.3 2249.5,531.0 2249.2,550.6 2247.5,570.3 2247.3,590.0 2245.3,609.6 2244.9,629.3 2247.1,649.0 2245.6,668.7 2245.3,688.3 2245.8,708.0 2245.5,727.7 2247.0,747.3 2247.3,767.0 2248.8,786.7 2248.4,806.3 2249.1,826.0 2249.2,845.7 2250.0,865.3 2250.1,885.0 2250.5,904.7 2253.0,924.4 2253.8,944.0 2254.2,963.7 2254.8,983.4 2255.2,1003.0 2256.5,1022.7 2258.1,1042.4 2259.2,1062.0 2262.0,1081.7 2262.8,1101.4 2266.0,1121.1 2267.5,1140.7 2271.1,1160.4 2273.6,1180.1 2274.7,1199.7 2277.3,1219.4 2280.1,1239.1 2280.5,1258.7 2278.9,1278.4 2283.8,1298.1 2280.4,1317.8 2278.7,1337.4 2275.4,1357.1 2269.7,1376.8 2264.6,1396.4 2260.8,1416.1 2258.3,1435.8 2254.1,1455.4 2251.3,1475.1 2250.6,1494.8 2250.0,1514.4 2249.5,1534.1 2250.5,1553.8 2249.6,1573.5 2250.1,1593.1 2247.3,1612.8 2247.3,1632.5 2247.3,1652.1 2247.3,1671.8 2247.3,1691.5 2247.3,1711.1 2247.3,1730.8 2247.3,1750.5 2247.3,1770.2 2247.3,1789.8 2247.3,1809.5 2247.3,1829.2 2247.3,1848.8 2247.3,1868.5" fill="none" stroke="#470101" stroke-width="10" stroke-linejoin="round" stroke-linecap="square"/>
<polyline points="2248.1,216.2 2254.1,235.9 2251.3,255.6 2244.5,275.3 2255.6,294.9 2246.0,314.6 2246.5,334.3 2252.8,353.9 2247.4,373.6 2247.3,393.3 2245.2,412.9 2245.8,432.6 2250.2,452.3 2247.6,472.0 2250.4,491.6 2248.9,511.3 2249.5,531.0 2252.5,550.6 2249.9,570.3 2250.4,590.0 2251.7,609.6 2248.9,629.3 2249.0,649.0 2251.8,668.7 2252.7,688.3 2251.3,708.0 2251.4,727.7 2253.3,747.3 2254.2,767.0 2252.5,786.7 2255.0,806.3 2255.2,826.0 2255.0,845.7 2255.0,865.3 2254.7,885.0 2255.4,904.7 2258.4,924.4 2257.6,944.0 2259.5,963.7 2259.4,983.4 2261.7,1003.0 2262.5,1022.7 2263.2,1042.4 2264.3,1062.0 2266.7,1081.7 2266.7,1101.4 2269.2,1121.1 2272.0,1140.7 2274.9,1160.4 2277.0,1180.1 2278.9,1199.7 2282.2,1219.4 2282.0,1239.1 2282.7,1258.7 2280.4,1278.4 2286.6,1298.1 2282.9,1317.8 2280.2,1337.4 2276.8,1357.1 2272.3,1376.8 2266.5,1396.4 2262.5,1416.1 2259.6,1435.8 2255.8,1455.4 2253.4,1475.1 2252.2,1494.8 2251.5,1514.4 2250.2,1534.1 2249.8,1553.8 2249.6,1573.5 2250.5,1593.1 2248.0,1612.8 2248.0,1632.5 2248.0,1652.1 2248.0,1671.8 2248.0,1691.5 2248.0,1711.1 2248.0,1730.8 2248.0,1750.5 2248.0,1770.2 2248.0,1789.8 2248.0,1809.5 2248.0,1829.2 2248.0,1848.8 2248.0,1868.5" fill="none" stroke="#5f0e0c" stroke-width="10" stroke-linejoin="round" stroke-linecap="square"/>
<polyline points="2249.1,216.2 2250.6,235.9 2243.4,255.6 2247.6,275.3 2250.3,294.9 2249.9,314.6 2244.3,334.3 2248.8,353.9 2249.7,373.6 2246.1,393.3 2246.5,412.9 2244.2,432.6 2246.0,452.3 2246.2,472.0 2242.5,491.6 2246.4,511.3 2248.6,531.0 2247.8,550.6 2246.9,570.3 2245.3,590.0 2247.0,609.6 2246.3,629.3 2245.8,649.0 2247.4,668.7 2243.5,688.3 2245.8,708.0 2244.0,727.7 2245.9,747.3 2245.9,767.0 2245.6,786.7 2247.3,806.3 2247.2,826.0 2248.0,845.7 2249.2,865.3 2248.1,885.0 2248.4,904.7 2249.9,924.4 2251.6,944.0 2251.4,963.7 2252.2,983.4 2254.8,1003.0 2255.9,1022.7 2257.0,1042.4 2259.4,1062.0 2259.9,1081.7 2262.0,1101.4 2262.4,1121.1 2264.1,1140.7 2266.3,1160.4 2268.2,1180.1 2271.0,1199.7 2273.3,1219.4 2276.2,1239.1 2278.2,1258.7 2276.3,1278.4 2283.2,1298.1 2281.2,1317.8 2278.5,1337.4 2274.7,1357.1 2270.5,1376.8 2264.5,1396.4 2260.0,1416.1 2256.9,1435.8 2252.8,1455.4 2251.2,1475.1 2250.6,1494.8 2250.6,1514.4 2250.0,1534.1 2249.8,1553.8 2250.5,1573.5 2250.6,1593.1 2251.6,1612.8 2251.6,1632.5 2251.6,1652.1 2251.6,1671.8 2251.6,1691.5 2251.6,1711.1 2251.6,1730.8 2251.6,1750.5 2251.6,1770.2 2251.6,1789.8 2251.6,1809.5 2251.6,1829.2 2251.6,1848.8 2251.6,1868.5" fill="none" stroke="#771b16" stroke-width="10" stroke-linejoin="round" stroke-linecap="square"/>
<polyline points="2243.4,216.2 2242.2,235.9 2241.0,255.6 2248.4,275.3 2246.1,294.9 2248.4,314.6 2248.7,334.3 2250.5,353.9 2252.3,373.6 2248.8,393.3 2243.8,412.9 2246.6,432.6 2244.2,452.3 2243.2,472.0 2246.8,491.6 2248.4,511.3 2245.1,531.0 2245.9,550.6 2246.5,570.3 2248.3,590.0 2247.5,609.6 2247.9,629.3 2248.5,649.0 2247.4,668.7 2248.1,688.3 2248.7,708.0 2246.6,727.7 2249.4,747.3 2249.1,767.0 2247.9,786.7 2249.2,806.3 2250.1,826.0 2251.2,845.7 2250.3,865.3 2251.3,885.0 2252.9,904.7 2253.5,924.4 2254.7,944.0 2254.4,963.7 2255.7,983.4 2255.9,1003.0 2258.4,1022.7 2260.1,1042.4 2261.2,1062.0 2262.8,1081.7 2263.3,1101.4 2266.9,1121.1 2269.4,1140.7 2271.8,1160.4 2273.7,1180.1 2276.9,1199.7 2278.2,1219.4 2280.7,1239.1 2281.9,1258.7 2278.1,1278.4 2283.7,1298.1 2281.6,1317.8 2279.0,1337.4 2275.8,1357.1 2270.5,1376.8 2264.8,1396.4 2262.1,1416.1 2256.8,1435.8 2254.4,1455.4 2251.6,1475.1 2261.0,1494.8 2313.0,1514.4 2230.4,1534.1 2245.0,1553.8 2248.5,1573.5 2249.8,1593.1 2249.9,1612.8 2249.2,1632.5 2257.0,1652.1 2278.0,1671.8 2230.4,1691.5 2240.0,1711.1 2246.5,1730.8" fill="none" stroke="#8f2821" stroke-width="10" stroke-linejoin="round" stroke-linecap="square"/>
<polyline points="2244.6,216.2 2249.4,235.9 2252.1,255.6 2253.5,275.3 2251.6,294.9 2254.7,314.6 2249.1,334.3 2254.6,353.9 2244.2,373.6 2246.1,393.3 2249.5,412.9 2247.3,432.6 2251.0,452.3 2250.3,472.0 2249.5,491.6 2251.7,511.3 2249.9,531.0 2248.5,550.6 2249.0,570.3 2251.4,590.0 2251.6,609.6 2248.7,629.3 2251.3,649.0 2251.7,668.7 2251.3,688.3 2251.7,708.0 2251.0,727.7 2252.2,747.3 2252.4,767.0 2253.1,786.7 2252.1,806.3 2255.0,826.0 2254.2,845.7 2254.4,865.3 2255.9,885.0 2256.2,904.7 2256.8,924.4 2258.1,944.0 2257.6,963.7 2259.4,983.4 2260.4,1003.0 2262.8,1022.7 2264.0,1042.4 2264.1,1062.0 2261.0,1081.7 2259.8,1101.4 2259.2,1121.1 2259.0,1140.7 2259.0,1160.4 2259.5,1180.1 2266.0,1199.7 2274.0,1219.4 2280.0,1239.1 2284.3,1258.7 2279.8,1278.4 2287.1,1298.1 2282.6,1317.8 2280.0,1337.4 2276.3,1357.1 2272.3,1376.8 2266.7,1396.4 2262.4,1416.1 2258.9,1435.8 2254.0,1455.4 2253.4,1475.1 2251.2,1494.8 2251.3,1514.4 2250.3,1534.1 2250.0,1553.8 2250.3,1573.5 2249.9,1593.1 2249.5,1612.8 2255.0,1632.5 2257.5,1652.1 2274.0,1671.8 2292.8,1691.5 2279.6,1711.1 2267.4,1730.8" fill="none" stroke="#a6342b" stroke-width="10" stroke-linejoin="round" stroke-linecap="square"/>
<polyline points="2245.1,216.2 2246.6,235.9 2241.9,255.6 2242.5,275.3 2247.8,294.9 2247.9,314.6 2246.6,334.3 2250.5,353.9 2247.5,373.6 2250.1,393.3 2243.5,412.9 2248.4,432.6 2248.7,452.3 2249.3,472.0 2245.0,491.6 2245.2,511.3 2249.1,531.0 2245.0,550.6 2249.2,570.3 2248.6,590.0 2245.2,609.6 2245.8,629.3 2247.8,649.0 2246.3,668.7 2245.0,688.3 2247.5,708.0 2246.6,727.7 2248.0,747.3 2246.4,767.0 2247.6,786.7 2248.8,806.3 2247.5,826.0 2248.4,845.7 2250.1,865.3 2251.1,885.0 2252.1,904.7 2251.0,924.4 2252.7,944.0 2254.1,963.7 2254.4,983.4 2255.9,1003.0 2256.4,1022.7 2257.7,1042.4 2259.2,1062.0 2260.6,1081.7 2263.1,1101.4 2265.4,1121.1 2267.8,1140.7 2269.4,1160.4 2272.3,1180.1 2275.1,1199.7 2278.6,1219.4 2280.2,1239.1 2281.5,1258.7 2277.1,1278.4 2283.1,1298.1 2282.1,1317.8 2278.4,1337.4 2275.4,1357.1 2269.8,1376.8 2265.3,1396.4 2261.2,1416.1 2257.2,1435.8 2253.8,1455.4 2251.1,1475.1 2251.3,1494.8 2251.2,1514.4 2249.7,1534.1 2250.1,1553.8 2250.4,1573.5 2251.0,1593.1 2251.8,1612.8 2271.0,1632.5 2316.5,1652.1 2321.5,1671.8" fill="none" stroke="#be4136" stroke-width="10" stroke-linejoin="round" stroke-linecap="square"/>
<polyline points="2245.9,216.2 2243.2,235.9 2242.8,255.6 2247.3,275.3 2241.0,294.9 2252.0,314.6 2250.8,334.3 2249.6,353.9 2251.4,373.6 2248.5,393.3 2246.1,412.9 2248.0,432.6 2247.1,452.3 2250.8,472.0 2249.4,491.6 2245.7,511.3 2249.9,531.0 2248.9,550.6 2249.0,570.3 2249.1,590.0 2247.3,609.6 2249.4,629.3 2249.3,649.0 2248.7,668.7 2248.5,688.3 2248.8,708.0 2248.1,727.7 2249.3,747.3 2247.8,767.0 2248.9,786.7 2249.7,806.3 2249.0,826.0 2250.3,845.7 2251.5,865.3 2252.0,885.0 2251.9,904.7 2254.3,924.4 2254.5,944.0 2254.7,963.7 2256.2,983.4 2257.2,1003.0 2258.5,1022.7 2259.7,1042.4 2262.4,1062.0 2263.1,1081.7 2264.7,1101.4 2267.1,1121.1 2269.8,1140.7 2270.3,1160.4 2274.2,1180.1 2277.2,1199.7 2278.4,1219.4 2280.0,1239.1 2280.6,1258.7 2278.1,1278.4 2280.0,1298.1 2276.6,1317.8 2274.1,1337.4 2271.8,1357.1 2266.3,1376.8 2265.9,1396.4 2262.5,1416.1 2257.9,1435.8 2254.9,1455.4 2252.6,1475.1 2251.8,1494.8 2250.1,1514.4 2250.5,1534.1 2250.6,1553.8 2249.5,1573.5 2250.5,1593.1 2248.0,1612.8 2264.5,1632.5 2281.5,1652.1 2236.0,1671.8 2243.1,1691.5 2246.3,1711.1 2248.2,1730.8 2249.0,1750.5 2251.4,1770.2 2278.3,1789.8 2267.0,1809.5 2255.6,1829.2 2254.5,1848.8 2244.2,1868.5" fill="none" stroke="#d64e40" stroke-width="10" stroke-linejoin="round" stroke-linecap="square"/>
<polyline points="2243.6,216.2 2247.6,235.9 2243.8,255.6 2247.9,275.3 2249.4,294.9 2242.5,314.6 2253.5,334.3 2247.0,353.9 2248.3,373.6 2249.1,393.3 2246.7,412.9 2246.1,432.6 2249.2,452.3 2248.5,472.0 2246.6,491.6 2249.7,511.3 2247.1,531.0 2245.6,550.6 2247.1,570.3 2246.3,590.0 2247.1,609.6 2249.7,629.3 2248.3,649.0 2250.3,668.7 2250.0,688.3 2248.2,708.0 2251.2,727.7 2251.4,747.3 2249.3,767.0 2251.9,786.7 2251.1,806.3 2251.7,826.0 2253.4,845.7 2252.0,865.3 2253.2,885.0 2255.0,904.7 2255.3,924.4 2255.6,944.0 2257.5,963.7 2258.0,983.4 2258.7,1003.0 2259.2,1022.7 2261.6,1042.4 2262.6,1062.0 2263.5,1081.7 2264.6,1101.4 2267.8,1121.1 2269.2,1140.7 2272.2,1160.4 2275.4,1180.1 2277.6,1199.7 2279.3,1219.4 2281.2,1239.1 2282.1,1258.7 2280.1,1278.4 2285.6,1298.1 2283.6,1317.8 2280.6,1337.4 2276.5,1357.1 2270.7,1376.8 2265.6,1396.4 2262.8,1416.1 2258.7,1435.8 2254.5,1455.4 2252.4,1475.1 2251.1,1494.8 2251.3,1514.4 2250.6,1534.1 2250.5,1553.8 2250.3,1573.5 2250.0,1593.1" fill="none" stroke="#ee5b4b" stroke-width="10" stroke-linejoin="round" stroke-linecap="square"/>
</g>
<rect x="2138.3" y="216.25" width="1222.3" height="1652.25" fill="none" stroke="#fff" stroke-width="5.3"/>
<line x1="2249.4" x2="2249.4" y1="1868.5" y2="1880.7" stroke="#fff" stroke-width="2.9"/>
<text x="2234.89" y="1925.3" font-size="45.0" stroke="#fff" stroke-width="1.03" textLength="27.76" lengthAdjust="spacingAndGlyphs">0</text>
<line x1="2471.7" x2="2471.7" y1="1868.5" y2="1880.7" stroke="#fff" stroke-width="2.9"/>
<text x="2445.32" y="1925.3" font-size="45.0" stroke="#fff" stroke-width="1.03" textLength="52.05" lengthAdjust="spacingAndGlyphs">20</text>
<line x1="2693.9" x2="2693.9" y1="1868.5" y2="1880.7" stroke="#fff" stroke-width="2.9"/>
<text x="2665.57" y="1925.3" font-size="45.0" stroke="#fff" stroke-width="1.03" textLength="55.24" lengthAdjust="spacingAndGlyphs">40</text>
<line x1="2916.1" x2="2916.1" y1="1868.5" y2="1880.7" stroke="#fff" stroke-width="2.9"/>
<text x="2888.83" y="1925.3" font-size="45.0" stroke="#fff" stroke-width="1.03" textLength="52.94" lengthAdjust="spacingAndGlyphs">60</text>
<line x1="3138.4" x2="3138.4" y1="1868.5" y2="1880.7" stroke="#fff" stroke-width="2.9"/>
<text x="3109.79" y="1925.3" font-size="45.0" stroke="#fff" stroke-width="1.03" textLength="53.64" lengthAdjust="spacingAndGlyphs">80</text>
<line x1="3360.6" x2="3360.6" y1="1868.5" y2="1880.7" stroke="#fff" stroke-width="2.9"/>
<text x="3320.78" y="1925.3" font-size="45.0" stroke="#fff" stroke-width="1.03" textLength="77.41" lengthAdjust="spacingAndGlyphs">100</text>
<line x1="2126.1000000000004" x2="2138.3" y1="1789.8" y2="1789.8" stroke="#fff" stroke-width="2.9"/>
<text x="2064.37" y="1806.5" font-size="45.0" stroke="#fff" stroke-width="1.03" textLength="48.82" lengthAdjust="spacingAndGlyphs">10</text>
<line x1="2126.1000000000004" x2="2138.3" y1="1593.1" y2="1593.1" stroke="#fff" stroke-width="2.9"/>
<text x="2065.30" y="1609.8" font-size="45.0" stroke="#fff" stroke-width="1.03" textLength="47.06" lengthAdjust="spacingAndGlyphs">15</text>
<line x1="2126.1000000000004" x2="2138.3" y1="1396.4" y2="1396.4" stroke="#fff" stroke-width="2.9"/>
<text x="2061.89" y="1413.1" font-size="45.0" stroke="#fff" stroke-width="1.03" textLength="51.50" lengthAdjust="spacingAndGlyphs">20</text>
<line x1="2126.1000000000004" x2="2138.3" y1="1199.7" y2="1199.7" stroke="#fff" stroke-width="2.9"/>
<text x="2063.71" y="1216.4" font-size="45.0" stroke="#fff" stroke-width="1.03" textLength="48.92" lengthAdjust="spacingAndGlyphs">25</text>
<line x1="2126.1000000000004" x2="2138.3" y1="1003.0" y2="1003.0" stroke="#fff" stroke-width="2.9"/>
<text x="2061.93" y="1019.7" font-size="45.0" stroke="#fff" stroke-width="1.03" textLength="52.29" lengthAdjust="spacingAndGlyphs">30</text>
<line x1="2126.1000000000004" x2="2138.3" y1="806.3" y2="806.3" stroke="#fff" stroke-width="2.9"/>
<text x="2063.70" y="823.0" font-size="45.0" stroke="#fff" stroke-width="1.03" textLength="50.07" lengthAdjust="spacingAndGlyphs">35</text>
<line x1="2126.1000000000004" x2="2138.3" y1="609.6" y2="609.6" stroke="#fff" stroke-width="2.9"/>
<text x="2058.78" y="626.3" font-size="45.0" stroke="#fff" stroke-width="1.03" textLength="55.03" lengthAdjust="spacingAndGlyphs">40</text>
<line x1="2126.1000000000004" x2="2138.3" y1="412.9" y2="412.9" stroke="#fff" stroke-width="2.9"/>
<text x="2060.53" y="429.6" font-size="45.0" stroke="#fff" stroke-width="1.03" textLength="52.74" lengthAdjust="spacingAndGlyphs">45</text>
<line x1="2126.1000000000004" x2="2138.3" y1="216.2" y2="216.2" stroke="#fff" stroke-width="2.9"/>
<text x="2061.44" y="232.9" font-size="45.0" stroke="#fff" stroke-width="1.03" textLength="52.07" lengthAdjust="spacingAndGlyphs">50</text>
<text x="2198.95" y="2001.0" font-size="58.8" stroke="#fff" stroke-width="1.35" textLength="617.16" lengthAdjust="spacingAndGlyphs">Aerosol-To-Molecular</text>
<text x="2836.49" y="2001.0" font-size="58.8" stroke="#fff" stroke-width="1.35" textLength="289.87" lengthAdjust="spacingAndGlyphs">Extinction</text>
<text x="3145.65" y="2001.0" font-size="58.8" stroke="#fff" stroke-width="1.35" textLength="154.35" lengthAdjust="spacingAndGlyphs">Ratio</text>
<text transform="translate(2023.1,1234.7) rotate(-90)" x="0.55" y="0" font-size="58.8" fill="#fff" stroke="#fff" stroke-width="1.35" textLength="217.57" lengthAdjust="spacingAndGlyphs">Altitude</text>
<text transform="translate(2023.1,984.3) rotate(-90)" x="-4.51" y="0" font-size="58.8" fill="#fff" stroke="#fff" stroke-width="1.35" textLength="137.31" lengthAdjust="spacingAndGlyphs">[km]</text>
</g>
<g id="legend-sunrise">
<rect x="11.6" y="729.5" width="426.8" height="955.9" rx="6.5" fill="#000" stroke="#a3a3a3" stroke-width="3.2"/>
<line x1="21.9" x2="111.9" y1="760.8" y2="760.8" stroke="#0a4264" stroke-width="10"/>
<text x="139.55" y="774.4" font-size="38.8" stroke="#fff" stroke-width="0.89" textLength="276.05" lengthAdjust="spacingAndGlyphs">2023030701SR</text>
<line x1="21.9" x2="111.9" y1="819.8" y2="819.8" stroke="#0a476b" stroke-width="10"/>
<text x="139.52" y="833.4" font-size="38.8" stroke="#fff" stroke-width="0.89" textLength="280.51" lengthAdjust="spacingAndGlyphs">2023030704SR</text>
<line x1="21.9" x2="111.9" y1="878.9" y2="878.9" stroke="#0b4c72" stroke-width="10"/>
<text x="139.54" y="892.4" font-size="38.8" stroke="#fff" stroke-width="0.89" textLength="277.26" lengthAdjust="spacingAndGlyphs">2023030707SR</text>
<line x1="21.9" x2="111.9" y1="937.9" y2="937.9" stroke="#0b517a" stroke-width="10"/>
<text x="139.55" y="951.4" font-size="38.8" stroke="#fff" stroke-width="0.89" textLength="275.84" lengthAdjust="spacingAndGlyphs">2023030710SR</text>
<line x1="21.9" x2="111.9" y1="996.9" y2="996.9" stroke="#0b5681" stroke-width="10"/>
<text x="139.58" y="1010.5" font-size="38.8" stroke="#fff" stroke-width="0.89" textLength="272.19" lengthAdjust="spacingAndGlyphs">2023030713SR</text>
<line x1="21.9" x2="111.9" y1="1055.9" y2="1055.9" stroke="#0b5b88" stroke-width="10"/>
<text x="139.57" y="1069.5" font-size="38.8" stroke="#fff" stroke-width="0.89" textLength="273.41" lengthAdjust="spacingAndGlyphs">2023030716SR</text>
<line x1="21.9" x2="111.9" y1="1115.0" y2="1115.0" stroke="#0c608f" stroke-width="10"/>
<text x="139.57" y="1128.5" font-size="38.8" stroke="#fff" stroke-width="0.89" textLength="273.41" lengthAdjust="spacingAndGlyphs">2023030719SR</text>
<line x1="21.9" x2="111.9" y1="1174.0" y2="1174.0" stroke="#0c6596" stroke-width="10"/>
<text x="139.56" y="1187.6" font-size="38.8" stroke="#fff" stroke-width="0.89" textLength="275.13" lengthAdjust="spacingAndGlyphs">2023030722SR</text>
<line x1="21.9" x2="111.9" y1="1233.0" y2="1233.0" stroke="#0c6a9e" stroke-width="10"/>
<text x="139.55" y="1246.6" font-size="38.8" stroke="#fff" stroke-width="0.89" textLength="275.84" lengthAdjust="spacingAndGlyphs">2023030725SR</text>
<line x1="21.9" x2="111.9" y1="1292.1" y2="1292.1" stroke="#0c6fa5" stroke-width="10"/>
<text x="139.55" y="1305.6" font-size="38.8" stroke="#fff" stroke-width="0.89" textLength="276.45" lengthAdjust="spacingAndGlyphs">2023030728SR</text>
<line x1="21.9" x2="111.9" y1="1351.1" y2="1351.1" stroke="#0d74ac" stroke-width="10"/>
<text x="139.58" y="1364.7" font-size="38.8" stroke="#fff" stroke-width="0.89" textLength="272.19" lengthAdjust="spacingAndGlyphs">2023030731SR</text>
<line x1="21.9" x2="111.9" y1="1410.1" y2="1410.1" stroke="#0d79b3" stroke-width="10"/>
<text x="139.54" y="1423.7" font-size="38.8" stroke="#fff" stroke-width="0.89" textLength="277.87" lengthAdjust="spacingAndGlyphs">2023030734SR</text>
<line x1="21.9" x2="111.9" y1="1469.2" y2="1469.2" stroke="#0d7eba" stroke-width="10"/>
<text x="139.56" y="1482.7" font-size="38.8" stroke="#fff" stroke-width="0.89" textLength="273.82" lengthAdjust="spacingAndGlyphs">2023030737SR</text>
<line x1="21.9" x2="111.9" y1="1528.2" y2="1528.2" stroke="#0d83c2" stroke-width="10"/>
<text x="139.51" y="1541.7" font-size="38.8" stroke="#fff" stroke-width="0.89" textLength="280.92" lengthAdjust="spacingAndGlyphs">2023030740SR</text>
<line x1="21.9" x2="111.9" y1="1587.2" y2="1587.2" stroke="#0e88c9" stroke-width="10"/>
<text x="139.54" y="1600.8" font-size="38.8" stroke="#fff" stroke-width="0.89" textLength="277.87" lengthAdjust="spacingAndGlyphs">2023030743SR</text>
<line x1="21.9" x2="111.9" y1="1646.2" y2="1646.2" stroke="#0e8dd0" stroke-width="10"/>
<text x="139.54" y="1659.8" font-size="38.8" stroke="#fff" stroke-width="0.89" textLength="277.87" lengthAdjust="spacingAndGlyphs">2023030747SR</text>
</g>
<g id="legend-sunset">
<rect x="3380.4" y="965.4" width="421.9" height="484.0" rx="6.5" fill="#000" stroke="#a3a3a3" stroke-width="3.2"/>
<line x1="3391.3" x2="3481.0" y1="996.8" y2="996.8" stroke="#470101" stroke-width="10"/>
<text x="3508.63" y="1010.4" font-size="38.8" stroke="#fff" stroke-width="0.89" textLength="276.16" lengthAdjust="spacingAndGlyphs">2023030724SS</text>
<line x1="3391.3" x2="3481.0" y1="1055.8" y2="1055.8" stroke="#5f0e0c" stroke-width="10"/>
<text x="3508.66" y="1069.4" font-size="38.8" stroke="#fff" stroke-width="0.89" textLength="272.31" lengthAdjust="spacingAndGlyphs">2023030727SS</text>
<line x1="3391.3" x2="3481.0" y1="1114.8" y2="1114.8" stroke="#771b16" stroke-width="10"/>
<text x="3508.65" y="1128.4" font-size="38.8" stroke="#fff" stroke-width="0.89" textLength="274.23" lengthAdjust="spacingAndGlyphs">2023030730SS</text>
<line x1="3391.3" x2="3481.0" y1="1173.8" y2="1173.8" stroke="#8f2821" stroke-width="10"/>
<text x="3508.67" y="1187.4" font-size="38.8" stroke="#fff" stroke-width="0.89" textLength="270.48" lengthAdjust="spacingAndGlyphs">2023030733SS</text>
<line x1="3391.3" x2="3481.0" y1="1232.8" y2="1232.8" stroke="#a6342b" stroke-width="10"/>
<text x="3508.66" y="1246.4" font-size="38.8" stroke="#fff" stroke-width="0.89" textLength="272.51" lengthAdjust="spacingAndGlyphs">2023030736SS</text>
<line x1="3391.3" x2="3481.0" y1="1291.8" y2="1291.8" stroke="#be4136" stroke-width="10"/>
<text x="3508.66" y="1305.4" font-size="38.8" stroke="#fff" stroke-width="0.89" textLength="272.51" lengthAdjust="spacingAndGlyphs">2023030739SS</text>
<line x1="3391.3" x2="3481.0" y1="1350.8" y2="1350.8" stroke="#d64e40" stroke-width="10"/>
<text x="3508.63" y="1364.4" font-size="38.8" stroke="#fff" stroke-width="0.89" textLength="276.16" lengthAdjust="spacingAndGlyphs">2023030742SS</text>
<line x1="3391.3" x2="3481.0" y1="1409.8" y2="1409.8" stroke="#ee5b4b" stroke-width="10"/>
<text x="3508.63" y="1423.4" font-size="38.8" stroke="#fff" stroke-width="0.89" textLength="275.96" lengthAdjust="spacingAndGlyphs">2023030746SS</text>
</g>
<g id="legend-tropopause">
<line x1="39.9" x2="120.1" y1="1979.9" y2="1979.9" stroke="#fff" stroke-width="10.2" stroke-dasharray="37 16"/>
<line x1="39.9" x2="120.1" y1="2040.0" y2="2040.0" stroke="#fff" stroke-width="10" stroke-dasharray="10 16.5"/>
<rect x="40.4" y="2085.4" width="80.3" height="28.3" fill="#676b70" stroke="#9a9c9f" stroke-width="3"/>
<text x="152.39" y="1993.3" font-size="38.8" stroke="#fff" stroke-width="0.89" textLength="349.08" lengthAdjust="spacingAndGlyphs">Mean Tropopause</text>
<text x="152.37" y="2053.0" font-size="38.8" stroke="#fff" stroke-width="0.89" textLength="385.02" lengthAdjust="spacingAndGlyphs">Median Tropopause</text>
<text x="153.98" y="2112.3" font-size="38.8" stroke="#fff" stroke-width="0.89" textLength="366.48" lengthAdjust="spacingAndGlyphs">Tropopause Range</text>
</g>
<g id="credits">
<text x="3267.96" y="2038.0" font-size="33.6" fill="#808080" stroke="#808080" stroke-width="0.77" textLength="87.10" lengthAdjust="spacingAndGlyphs">SAGE</text>
<text x="3367.77" y="2038.4" font-size="33.6" font-family='"Liberation Mono", monospace' stroke="#808080" stroke-width="1.0" fill="#808080" textLength="47.99" lengthAdjust="spacingAndGlyphs">III</text>
<text x="3433.65" y="2038.4" font-size="33.6" font-family='"Liberation Mono", monospace' stroke="#808080" stroke-width="1.0" fill="#808080" textLength="17.92" lengthAdjust="spacingAndGlyphs">I</text>
<text x="3450.50" y="2038.0" font-size="33.6" fill="#808080" stroke="#808080" stroke-width="0.77" textLength="37.82" lengthAdjust="spacingAndGlyphs">SS</text>
<text x="3499.57" y="2038.0" font-size="33.6" fill="#808080" stroke="#808080" stroke-width="0.77" textLength="120.35" lengthAdjust="spacingAndGlyphs">Mission</text>
<text x="3647.25" y="2038.0" font-size="33.6" fill="#808080" stroke="#808080" stroke-width="0.77" textLength="90.93" lengthAdjust="spacingAndGlyphs">NASA</text>
<text x="3749.57" y="2038.0" font-size="33.6" fill="#808080" stroke="#808080" stroke-width="0.77" textLength="87.75" lengthAdjust="spacingAndGlyphs">LaRC</text>
<polygon points="3415.4,2045 3419.3,2045 3433.4,2011.5 3429.5,2011.5" fill="#808080"/>
<rect x="3631.4" y="2011.5" width="3.9" height="34" fill="#808080"/>
<text x="3311.54" y="2075.9" font-size="33.6" fill="#808080" stroke="#808080" stroke-width="0.77" textLength="526.90" lengthAdjust="spacingAndGlyphs">Preparer: Kevin R. Leavor (AMA)</text>
<text x="3388.84" y="2113.2" font-size="33.6" fill="#808080" stroke="#808080" stroke-width="0.77" textLength="448.84" lengthAdjust="spacingAndGlyphs">Generated 2025-07-17 22:25</text>
<text x="3533.05" y="2150.4" font-size="33.6" fill="#808080" stroke="#808080" stroke-width="0.77" textLength="304.57" lengthAdjust="spacingAndGlyphs">Data Version: 6.0.0</text>
</g>
<g id="mission-patch">
<path d="M3494.5,223.4 L3494.5,49.2 A31,31 0 0 1 3525.5,18.2 L3799.2,18.2 A31,31 0 0 1 3830.2,49.2 L3830.2,223.4 A167.85,167.85 0 0 1 3494.5,223.4Z" fill="#e85e4e"/>
<path id="patch-inner" d="M3500.8,223.4 L3500.8,49.2 A24.7,24.7 0 0 1 3525.5,24.5 L3799.2,24.5 A24.7,24.7 0 0 1 3823.8999999999996,49.2 L3823.8999999999996,223.4 A161.55,161.55 0 0 1 3500.8,223.4Z" fill="#015281"/>
<clipPath id="clip-patch"><path d="M3500.8,223.4 L3500.8,49.2 A24.7,24.7 0 0 1 3525.5,24.5 L3799.2,24.5 A24.7,24.7 0 0 1 3823.8999999999996,49.2 L3823.8999999999996,223.4 A161.55,161.55 0 0 1 3500.8,223.4Z"/></clipPath>
<text x="3528.0" y="59.7" font-family='"Liberation Serif", serif' font-weight="bold" font-size="44" fill="#fff" textLength="172.7" lengthAdjust="spacingAndGlyphs">SAGE III</text>
<circle cx="3715.6" cy="45.6" r="3.9" fill="#fff"/>
<text x="3732.8" y="59.7" font-family='"Liberation Serif", serif' font-weight="bold" font-size="44" fill="#fff" textLength="60.4" lengthAdjust="spacingAndGlyphs">ISS</text>
<text x="3527.6" y="71.4" font-size="7.6" fill="#dfe8f2" textLength="173.1" lengthAdjust="spacingAndGlyphs">Stratospheric Aerosol and Gas Experiment III</text>
<text x="3736.6" y="71.8" font-size="7.8" fill="#dfe8f2" textLength="53.2" lengthAdjust="spacingAndGlyphs">International</text>
<text x="3733.6" y="82.7" font-size="7.8" fill="#dfe8f2" textLength="59.6" lengthAdjust="spacingAndGlyphs">Space Station</text>
<circle cx="3662.0" cy="221.0" r="134.4" fill="none" stroke="#cdd0dc" stroke-width="13.6"/>
<clipPath id="clip-disc"><circle cx="3662.0" cy="221.0" r="127.89999999999999"/></clipPath>
<g clip-path="url(#clip-disc)">
<circle cx="3160.0" cy="630.0" r="658.0" fill="none" stroke="#12679d" stroke-width="15.0"/>
<clipPath id="clip-earth"><circle cx="3160.0" cy="630.0" r="650.5"/></clipPath>
<g clip-path="url(#clip-earth)">
<circle cx="3160.0" cy="630.0" r="650.5" fill="#015281"/>
<polygon points="3556.9,177.9 3604.9,177.9 3618.2,177.0 3633.1,186.1 3647.2,195.3 3657.1,206.9 3663.7,218.5 3666.2,230.9 3663.2,240.8 3666.5,254.1 3671.5,265.7 3673.2,273.6 3667.9,270.6 3662.9,264.0 3655.4,259.9 3648.0,264.0 3643.3,274.0 3644.3,287.2 3649.6,298.8 3657.9,306.3 3667.9,307.1 3674.5,302.9 3680.3,307.1 3682.8,315.4 3689.4,313.7 3696.0,307.1 3706.0,293.8 3715.9,290.5 3722.5,295.5 3730.8,313.7 3739.1,331.9 3745.7,348.5 3696.0,348.5 3694.7,328.6 3689.4,321.2 3676.1,321.2 3659.6,316.2 3644.7,314.0 3633.1,307.4 3619.8,299.1 3607.4,289.2 3599.9,282.2 3556.9,282.2" fill="#5ba36c"/>
<path d="M3622.3,205.6 Q3620.6,201.9 3623.1,200.6 Q3625.6,199.4 3627.3,202.7 Q3628.9,206.0 3631.8,206.9 Q3634.7,207.7 3634.1,211.0 Q3633.4,214.3 3631.3,215.1 Q3629.1,216.0 3627.4,219.3 Q3625.6,222.6 3624.0,219.3 Q3622.5,216.0 3623.2,212.7 Q3624.0,209.3 3622.3,205.6Z" fill="#015281"/>
<path d="M3638.3,210.2 Q3637.2,206.0 3639.7,205.4 Q3642.2,204.7 3643.4,209.5 Q3644.7,214.3 3645.9,218.0 Q3647.2,221.8 3645.3,224.7 Q3643.3,227.6 3641.5,224.3 Q3639.7,220.9 3639.5,217.6 Q3639.4,214.3 3638.3,210.2Z" fill="#015281"/>
<path d="M3649.4,213.9 Q3648.8,210.2 3651.3,208.9 Q3653.8,207.7 3655.2,211.8 Q3656.6,216.0 3654.8,219.3 Q3653.0,222.6 3651.5,220.1 Q3650.0,217.6 3649.4,213.9Z" fill="#015281"/>
<path d="M3659.4,224.3 Q3659.3,221.8 3661.1,222.2 Q3662.9,222.6 3662.6,225.1 Q3662.2,227.6 3660.9,227.2 Q3659.6,226.7 3659.4,224.3Z" fill="#015281"/>
</g>
<circle cx="3160.0" cy="630.0" r="650.5" fill="none" stroke="#e8f2fa" stroke-width="1.1"/>
<polyline points="3602.8,152.2 3669.7,225.9" fill="none" stroke="#8fd0f5" stroke-width="0.9"/>
<polyline points="3603.5,151.5 3675.0,232.7" fill="none" stroke="#8fd0f5" stroke-width="0.9"/>
<clipPath id="clip-moon"><circle cx="3637.1" cy="144.3" r="23.8"/></clipPath>
<circle cx="3637.1" cy="144.3" r="23.8" fill="#fcfcfe"/>
<g clip-path="url(#clip-moon)">
<circle cx="3160.0" cy="630.0" r="663.3" fill="#ecebf1"/>
<path d="M3618.0,140.4 Q3616.6,137.1 3618.0,133.7 Q3619.5,130.3 3622.6,128.4 Q3625.8,126.4 3628.9,126.9 Q3632.1,127.4 3634.0,129.6 Q3635.9,131.7 3635.0,134.4 Q3634.0,137.1 3632.1,139.0 Q3630.1,140.9 3632.1,142.4 Q3634.0,143.8 3634.2,146.2 Q3634.5,148.6 3632.3,150.1 Q3630.1,151.5 3627.2,150.1 Q3624.3,148.6 3621.9,146.2 Q3619.5,143.8 3618.0,140.4Z" fill="#cccfd6"/>
<path d="M3638.1,148.6 Q3638.8,146.7 3641.2,145.0 Q3643.6,143.3 3646.1,144.1 Q3648.5,144.8 3648.7,147.4 Q3649.0,150.1 3647.0,152.3 Q3645.1,154.4 3642.4,154.2 Q3639.8,154.0 3638.6,152.3 Q3637.4,150.6 3638.1,148.6Z" fill="#c4c7cf"/>
<path d="M3641.2,130.5 Q3639.8,128.4 3643.2,127.4 Q3646.5,126.4 3649.7,128.4 Q3652.8,130.3 3652.6,132.7 Q3652.3,135.1 3649.9,134.6 Q3647.5,134.2 3645.1,133.4 Q3642.7,132.7 3641.2,130.5Z" fill="#d8dae0"/>
<path d="M3642.7,139.0 Q3642.7,137.1 3644.6,136.6 Q3646.5,136.1 3647.5,138.0 Q3648.5,140.0 3647.0,141.4 Q3645.6,142.9 3644.1,141.9 Q3642.7,140.9 3642.7,139.0Z" fill="#cfd2d8"/>
<path d="M3626.5,132.2 Q3625.3,130.3 3627.7,129.8 Q3630.1,129.3 3631.1,131.0 Q3632.1,132.7 3629.9,133.4 Q3627.7,134.2 3626.5,132.2Z" fill="#f1f1f5"/>
</g>
<path d="M3693.6,107.1 L3695.072,114.828 L3702.7999999999997,116.3 L3695.072,117.77199999999999 L3693.6,125.5 L3692.1279999999997,117.77199999999999 L3684.4,116.3 L3692.1279999999997,114.828Z" fill="#fff"/>
<circle cx="3693.6" cy="116.3" r="2.0" fill="#fbd46e"/>
<path d="M3680.0,122.10000000000001 L3680.896,126.804 L3685.6,127.7 L3680.896,128.596 L3680.0,133.3 L3679.104,128.596 L3674.4,127.7 L3679.104,126.804Z" fill="#fff"/>
<path d="M3703.5,127.5 L3704.14,130.86 L3707.5,131.5 L3704.14,132.14 L3703.5,135.5 L3702.86,132.14 L3699.5,131.5 L3702.86,130.86Z" fill="#fff"/>
<line x1="3653.8" y1="158.3" x2="3716.0" y2="188.4" stroke="#f2f7fb" stroke-width="0.9"/>
<line x1="3646.2" y1="165.9" x2="3716.0" y2="189.0" stroke="#f2f7fb" stroke-width="0.9"/>
<line x1="3716.0" y1="190.2" x2="3669.7" y2="225.9" stroke="#f2f7fb" stroke-width="1.6"/>
<line x1="3716.0" y1="191.7" x2="3675.0" y2="232.7" stroke="#f2f7fb" stroke-width="1.6"/>
<line x1="3716.7" y1="191.0" x2="3723.6" y2="259.3" stroke="#f2f7fb" stroke-width="0.9"/>
<line x1="3718.3" y1="191.0" x2="3733.4" y2="257.0" stroke="#f2f7fb" stroke-width="0.9"/>
<clipPath id="clip-sun"><circle cx="3735.3" cy="280.8" r="23.2"/></clipPath>
<circle cx="3735.3" cy="280.8" r="23.2" fill="#fdd993"/>
<circle cx="3160.0" cy="630.0" r="663.3" fill="#cdd0db" clip-path="url(#clip-sun)"/>
<polygon points="3723.1,147.6 3724.6,149.0 3698.4,175.2 3696.8,173.8" fill="#e3e7ec"/>
<polygon points="3725.1,149.5 3726.7,150.9 3700.5,177.1 3698.9,175.7" fill="#e3e7ec"/>
<polygon points="3727.2,151.4 3728.8,152.8 3702.6,179.0 3701.0,177.6" fill="#e3e7ec"/>
<polygon points="3729.3,153.3 3730.8,154.7 3704.6,180.9 3703.1,179.5" fill="#e3e7ec"/>
<polygon points="3751.4,176.6 3753.0,178.3 3727.5,204.5 3725.8,202.8" fill="#e3e7ec"/>
<polygon points="3753.5,178.8 3755.2,180.5 3729.7,206.8 3728.0,205.1" fill="#e3e7ec"/>
<polygon points="3755.7,181.1 3757.4,182.8 3731.8,209.0 3730.2,207.3" fill="#e3e7ec"/>
<polygon points="3757.9,183.3 3759.5,185.0 3734.0,211.2 3732.4,209.5" fill="#e3e7ec"/>
<polyline points="3709.7,162.5 3746.3,195.6" fill="none" stroke="#ead9cc" stroke-width="2.0"/>
<polyline points="3728.3,170.8 3717.3,193.6" fill="none" stroke="#e3e6ea" stroke-width="2.4"/>
<polyline points="3735.2,177.7 3722.8,193.6" fill="none" stroke="#e3e6ea" stroke-width="1.9"/>
<polyline points="3722.8,174.3 3735.2,182.5" fill="none" stroke="#e3e6ea" stroke-width="1.7"/>
<polyline points="3717.3,182.5 3731.1,190.8" fill="none" stroke="#e3e6ea" stroke-width="1.7"/>
<polyline points="3714.5,188.1 3724.2,194.3" fill="none" stroke="#e3e6ea" stroke-width="1.5"/>
<polyline points="3725.6,171.5 3736.6,175.6" fill="none" stroke="#e0b8a0" stroke-width="1.0"/>
</g>
<g id="sage" clip-path="url(#clip-patch)">
<g clip-path="url(#clip-disc)">
<polygon points="3551.8,205.5 3604.2,216.6 3606.3,255.2 3607.7,332.5 3549.0,296.6 3532.4,245.5 3540.7,220.7" fill="#d34b3f"/>
<polygon points="3557.3,215.2 3562.1,215.2 3572.5,296.6 3568.3,296.6" fill="#96261f"/>
<polygon points="3569.7,217.9 3574.5,217.9 3583.5,310.4 3579.4,310.4" fill="#96261f"/>
<polygon points="3582.1,220.7 3587.0,220.7 3594.6,321.5 3590.4,321.5" fill="#96261f"/>
<polygon points="3594.6,223.5 3599.4,223.5 3604.2,328.4 3600.1,328.4" fill="#96261f"/>
<polygon points="3546.3,227.6 3551.1,227.6 3558.7,277.3 3554.5,277.3" fill="#96261f"/>
<polygon points="3564.2,216.6 3567.2,216.6 3577.7,304.9 3575.2,304.9" fill="#ea6a58"/>
<polygon points="3589.0,222.1 3592.1,222.1 3599.8,324.2 3597.3,324.2" fill="#ea6a58"/>
</g>
<polygon points="3514.5,200.0 3540.7,200.0 3534.5,217.9 3521.4,231.1 3502.8,243.5 3502.1,234.5 3509.7,216.6" fill="#d34b3f"/>
<polygon points="3521.4,200.0 3528.3,200.0 3520.0,220.7 3507.6,237.3 3503.5,240.0 3511.7,217.9" fill="#96261f"/>
<polygon points="3544.1,153.0 3551.8,149.1 3561.5,149.1 3570.2,156.8 3577.0,170.4 3581.8,185.8 3587.6,190.7 3596.3,184.9 3601.1,182.0 3608.8,190.7 3607.9,204.2 3605.5,235.0 3551.8,235.0 3548.0,220.6 3542.2,235.0 3501.6,235.0 3509.3,220.6 3514.2,201.3 3518.0,182.0 3521.9,175.2 3531.5,167.5" fill="#d34b3f"/>
<polygon points="3521.9,175.2 3526.7,172.3 3521.9,191.6 3518.0,210.9 3510.3,235.0 3501.6,235.0 3509.3,220.6 3514.2,201.3 3518.0,182.0" fill="#ea6a58"/>
<polygon points="3526.7,172.3 3532.5,178.1 3528.6,191.6 3524.8,210.9 3518.0,235.0 3510.3,235.0 3518.0,210.9 3521.9,191.6" fill="#96261f"/>
<polygon points="3549.9,182.0 3563.4,185.8 3577.0,191.6 3580.8,192.6 3578.9,196.4 3563.4,191.6 3551.8,187.8" fill="#96261f"/>
<polygon points="3540.2,199.3 3548.0,195.5 3548.9,215.8 3542.2,235.0 3532.5,235.0 3536.4,215.8" fill="#96261f"/>
<polygon points="3599.2,168.4 3607.9,172.3 3604.0,186.8 3600.1,182.0" fill="#96261f"/>
<polygon points="3557.6,191.6 3563.4,192.6 3561.5,206.1 3556.7,205.1" fill="#96261f"/>
<polygon points="3573.1,195.5 3577.9,196.4 3577.0,209.0 3573.1,208.0" fill="#96261f"/>
<polygon points="3587.6,192.6 3592.4,191.6 3594.3,210.9 3590.5,211.9" fill="#96261f"/>
<polygon points="3544.1,153.0 3551.8,149.1 3557.6,156.8 3551.8,168.4 3544.1,162.6" fill="#ea6a58"/>
<polyline points="3556.7,207.6 3572.1,213.8 3586.6,217.2" fill="none" stroke="#8c4a22" stroke-width="7.5"/>
<polygon points="3604.0,223.5 3599.4,231.5 3590.2,231.5 3585.6,223.5 3590.2,215.5 3599.4,215.5" fill="#c9803f"/>
<polygon points="3601.4,223.5 3598.1,229.2 3591.5,229.2 3588.2,223.5 3591.5,217.8 3598.1,217.8" fill="#7c3214"/>
<text x="3592.2" y="226.9" font-family='"Liberation Serif", serif' font-size="10" font-style="italic" font-weight="bold" fill="#d9904a">S</text>
<polygon points="3601.1,166.5 3610.8,171.3 3617.5,172.3 3614.6,182.0 3605.9,191.6 3600.1,182.0" fill="#7a2a1e"/>
<polygon points="3610.8,171.3 3617.5,172.3 3615.6,175.2 3609.8,173.7" fill="#c98a52"/>
<path d="M3608.1,184.9 Q3608.4,180.0 3611.5,179.1 Q3614.6,178.1 3615.6,181.5 Q3616.6,184.9 3614.6,188.2 Q3612.7,191.6 3610.3,190.7 Q3607.9,189.7 3608.1,184.9Z" fill="#e2a265"/>
<path d="M3531.1,185.8 Q3528.6,180.0 3532.0,177.1 Q3535.4,174.2 3539.8,174.7 Q3544.1,175.2 3546.5,178.6 Q3548.9,182.0 3548.0,185.8 Q3547.0,189.7 3544.1,192.6 Q3541.2,195.5 3537.3,193.6 Q3533.5,191.6 3531.1,185.8Z" fill="#e2a265"/>
<polyline points="3534.6,123.0 3548.0,235.0" fill="none" stroke="#a9581f" stroke-width="5.2"/>
<polyline points="3533.7,123.0 3546.8,235.0" fill="none" stroke="#d98f4c" stroke-width="1.6"/>
<polyline points="3546.0,200.0 3549.7,227.6 3553.2,258.0 3560.7,269.0 3563.2,295.2" fill="none" stroke="#d99443" stroke-width="2.6"/>
<path d="M3530.6,185.1 Q3528.6,181.0 3532.0,179.1 Q3535.4,177.1 3538.3,178.1 Q3541.2,179.1 3540.7,182.9 Q3540.2,186.8 3536.4,188.0 Q3532.5,189.2 3530.6,185.1Z" fill="#e2a265"/>
<path d="M3563.2,147.4 Q3561.0,144.8 3567.1,140.7 Q3573.1,136.5 3579.9,133.2 Q3586.6,129.8 3592.4,129.1 Q3598.2,128.3 3602.1,131.0 Q3605.9,133.6 3606.9,137.0 Q3607.9,140.4 3605.0,140.4 Q3602.1,140.4 3600.6,148.6 Q3599.2,156.8 3599.9,161.7 Q3600.6,166.5 3599.9,172.8 Q3599.2,179.1 3595.8,183.6 Q3592.4,188.2 3589.5,189.7 Q3586.6,191.1 3583.7,188.0 Q3580.8,184.9 3578.9,178.1 Q3577.0,171.3 3574.1,164.6 Q3571.2,157.8 3568.3,153.9 Q3565.4,150.1 3563.2,147.4Z" fill="#fdfdfd"/>
<path d="M3580.3,143.3 Q3580.3,140.4 3584.9,137.3 Q3589.5,134.1 3594.3,134.9 Q3599.2,135.6 3602.6,138.2 Q3605.9,140.9 3604.0,145.0 Q3602.1,149.1 3600.9,152.0 Q3599.7,154.9 3595.6,155.9 Q3591.4,156.8 3587.8,154.9 Q3584.2,153.0 3582.3,149.6 Q3580.3,146.2 3580.3,143.3Z" fill="#e2a265"/>
<path d="M3586.6,138.0 Q3585.7,135.6 3590.0,134.4 Q3594.3,133.2 3597.7,135.3 Q3601.1,137.5 3597.7,138.0 Q3594.3,138.5 3591.0,139.4 Q3587.6,140.4 3586.6,138.0Z" fill="#f0c08a"/>
<path d="M3591.0,158.8 Q3589.5,154.9 3594.3,154.4 Q3599.2,153.9 3599.7,157.8 Q3600.1,161.7 3596.3,162.1 Q3592.4,162.6 3591.0,158.8Z" fill="#fdfdfd"/>
<path d="M3578.4,143.8 Q3577.4,140.4 3579.6,139.0 Q3581.8,137.5 3582.3,141.4 Q3582.8,145.2 3581.1,146.2 Q3579.4,147.2 3578.4,143.8Z" fill="#fdfdfd"/>
<polyline points="3592.4,147.2 3598.2,148.6" fill="none" stroke="#5a2e1a" stroke-width="1.0"/>
<circle cx="3532.5" cy="113.4" r="10.6" fill="#f4f5f8"/>
<circle cx="3533.7" cy="113.7" r="9.2" fill="#d3d6df"/>
</g>
<path id="patch-arc" d="M3507.8,256.6 A158.3,158.3 0 0 0 3819.8,233.4" fill="none"/>
<text font-size="15.6" font-weight="bold" fill="#fff" xml:space="preserve" textLength="447.0" lengthAdjust="spacing"><textPath href="#patch-arc" textLength="447.0" lengthAdjust="spacing">BALL&#160; • &#160;NASA LANGLEY RESEARCH CENTER&#160; • &#160;TAS-I&#160; • &#160;ESA</textPath></text>
</g>
</svg>
</body>
</html>
